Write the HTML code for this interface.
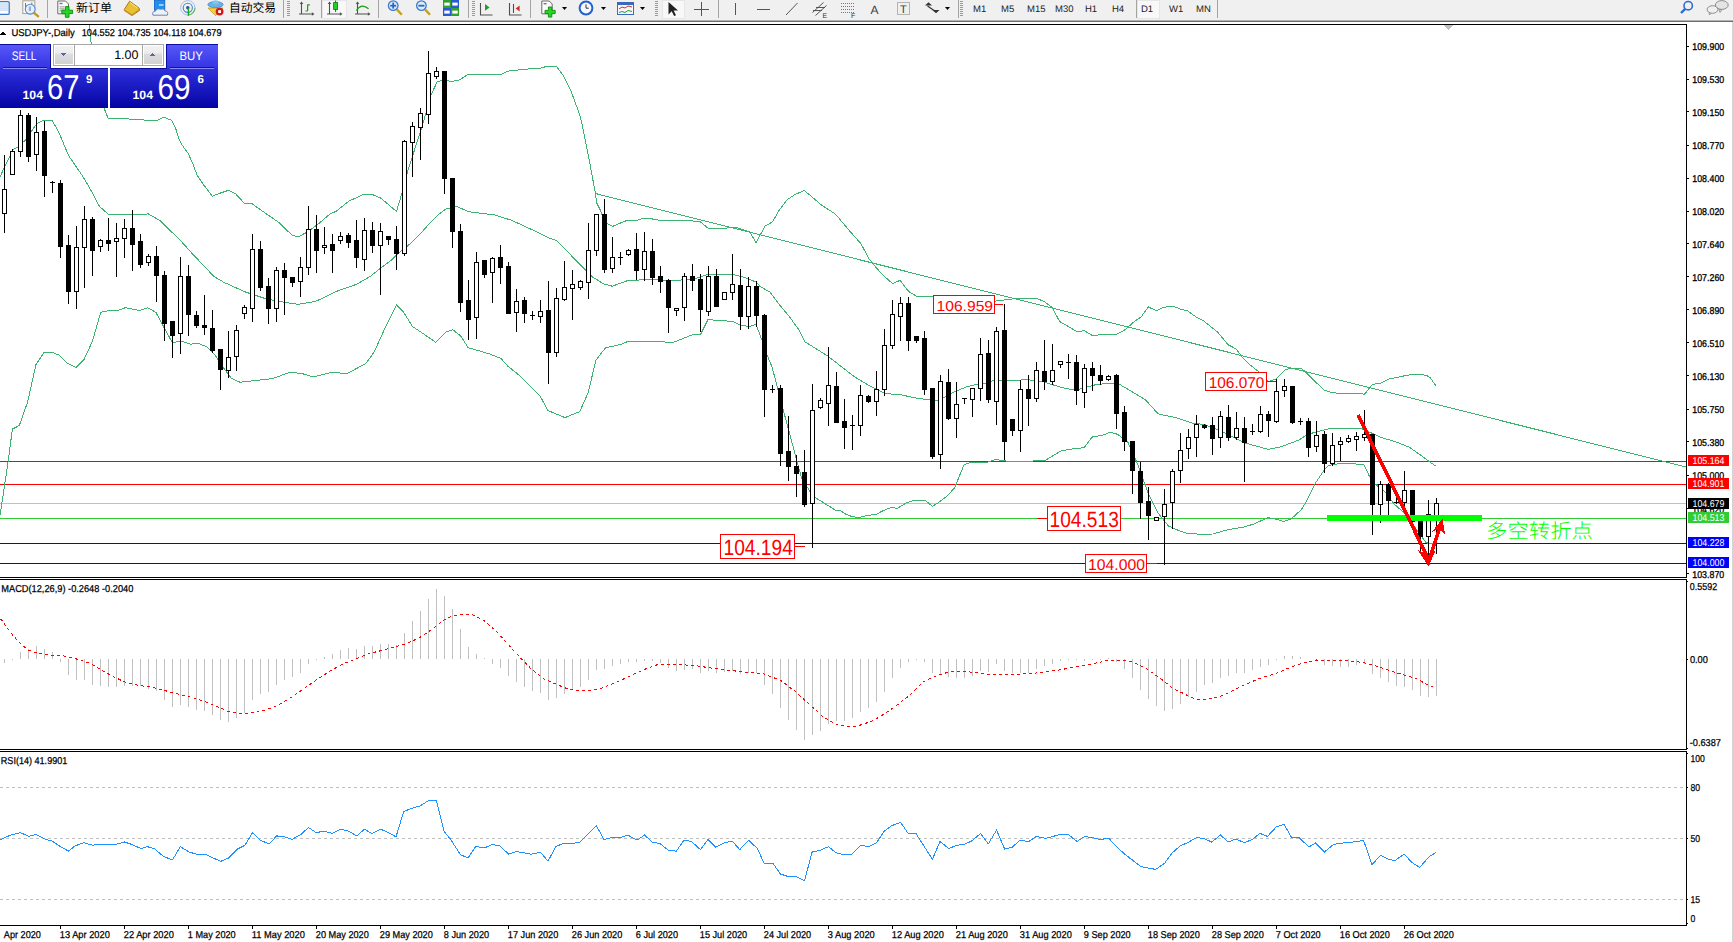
<!DOCTYPE html>
<html><head><meta charset="utf-8"><title>USDJPY-,Daily</title>
<style>
html,body{margin:0;padding:0;background:#fff;width:1733px;height:942px;overflow:hidden}
svg{display:block}
text{font-family:'Liberation Sans', 'Noto Sans CJK SC', sans-serif;white-space:pre;text-rendering:geometricPrecision}
</style></head><body>
<svg width="1733" height="942" viewBox="0 0 1733 942" shape-rendering="crispEdges">
<rect x="0" y="0" width="1733" height="942" fill="#ffffff"/>
<rect x="0" y="0" width="1733" height="20" fill="#f0f0f0"/>
<rect x="0" y="20" width="1733" height="1" fill="#b4b4b4"/>
<rect x="0" y="21" width="1733" height="1" fill="#6c6c6c"/>
<g shape-rendering="auto">
<rect x="-3" y="1.6" width="12.2" height="12.8" rx="1.2" fill="#fff" stroke="#3a7ac8" stroke-width="1.3"/>
<rect x="-2" y="3.6" width="10" height="0.9" fill="#a8c4ee"/>
<rect x="-2" y="5.6" width="10" height="0.9" fill="#a8c4ee"/>
<rect x="-2" y="7.6" width="10" height="0.9" fill="#a8c4ee"/>
<rect x="-2" y="9.6" width="10" height="0.9" fill="#a8c4ee"/>
<rect x="22.8" y="0.8" width="12" height="12.8" fill="#fafafa" stroke="#a8a290" stroke-width="1"/>
<path d="M25.5 3v7M31.8 2.5v5" stroke="#555" stroke-width="0.8"/>
<line x1="34" y1="12.8" x2="38.8" y2="16.8" stroke="#c09818" stroke-width="2.2"/>
<circle cx="30.2" cy="9.2" r="4.9" fill="#e4f0fa" fill-opacity="0.9" stroke="#5a8ad0" stroke-width="1.1"/>
<rect x="28.8" y="6.5" width="2.2" height="4.5" fill="#9ab0c8"/>
<rect x="47" y="0" width="1" height="18" fill="#a4a4a4"/>
<path d="M57.8 1h7.7l3 3v9.8h-10.7z" fill="#fcfcfc" stroke="#6a6a6a" stroke-width="1"/>
<rect x="59.5" y="2.8" width="3" height="1.4" fill="#777"/>
<rect x="59.5" y="6.4" width="5" height="0.9" fill="#888"/>
<rect x="59.5" y="8.4" width="5" height="0.9" fill="#888"/>
<rect x="59.5" y="10.4" width="5" height="0.9" fill="#888"/>
<path d="M65.4 6.6h3.6v3.6h3.6v3.4h-3.6v3.7h-3.6v-3.7h-3.6v-3.4h3.6z" fill="#22d822" stroke="#0e8a0e" stroke-width="0.9"/>
<text x="76" y="11.6" font-size="12" fill="#000" textLength="36" lengthAdjust="spacingAndGlyphs" >新订单</text>
<path d="M124.2 9.6 L129.6 1.2 L139 8 L139.6 10.4 L132 15.6 L124.4 10.6 Z" fill="#e8c030" stroke="#a86c10" stroke-width="0.9"/>
<path d="M125 10.4 L132 14.8 L139 9.6" fill="none" stroke="#c89028" stroke-width="1"/>
<path d="M130 2.6 L137.6 8" stroke="#fff2a0" stroke-width="0.8"/>
<rect x="154.4" y="0.2" width="10.4" height="10" fill="#1e90f0" stroke="#1060c0" stroke-width="0.8"/>
<rect x="159" y="4.4" width="4.5" height="1.2" fill="#e8f4ff"/>
<path d="M153 15.2 q-1.6 -3.4 2.4 -4 q1.4 -3.4 5.2 -2 q3.2 -1.6 4.6 1.8 q3.4 0.4 2.2 4.2 z" fill="#eef2f8" stroke="#5a78b0" stroke-width="0.9"/>
<circle cx="187.8" cy="7.8" r="7.2" fill="none" stroke="#a8c0e8" stroke-width="1"/>
<circle cx="187.8" cy="7.8" r="4.6" fill="none" stroke="#4a80d0" stroke-width="1.1"/>
<path d="M187.8 15 a7.2 7.2 0 0 0 7.2 -7.2" fill="none" stroke="#6ab86a" stroke-width="1.2"/>
<circle cx="187.8" cy="7.8" r="1.7" fill="#1a50c0"/>
<path d="M188.4 8.2v7.6" stroke="#18a818" stroke-width="1.4"/>
<path d="M208 8 L215.6 15.6 L223 8 Z" fill="#f2d040" stroke="#c09828" stroke-width="0.8"/>
<ellipse cx="215.5" cy="4.6" rx="7.6" ry="3" fill="#6ab4e8" stroke="#3a88c8" stroke-width="0.8"/>
<ellipse cx="215.5" cy="2.2" rx="3" ry="2" fill="#80c4f0"/>
<circle cx="219.6" cy="11.6" r="3.9" fill="#d81818"/>
<rect x="218.2" y="10.2" width="2.8" height="2.8" fill="#fff"/>
<text x="229" y="11.6" font-size="12" fill="#000" textLength="47" lengthAdjust="spacingAndGlyphs" >自动交易</text>
</g>
<rect x="283" y="0" width="1" height="18" fill="#a4a4a4"/>
<rect x="287" y="1" width="3" height="1" fill="#9a9a9a"/>
<rect x="287" y="3" width="3" height="1" fill="#9a9a9a"/>
<rect x="287" y="5" width="3" height="1" fill="#9a9a9a"/>
<rect x="287" y="7" width="3" height="1" fill="#9a9a9a"/>
<rect x="287" y="9" width="3" height="1" fill="#9a9a9a"/>
<rect x="287" y="11" width="3" height="1" fill="#9a9a9a"/>
<rect x="287" y="13" width="3" height="1" fill="#9a9a9a"/>
<rect x="287" y="15" width="3" height="1" fill="#9a9a9a"/>
<g shape-rendering="auto">
<path d="M301.5 3v11.5M299 14h14" stroke="#505050" stroke-width="1.1" fill="none"/>
<path d="M301.5 1.5l-1.8 2.6h3.6z" fill="#505050"/>
<path d="M314.5 14l-2.6 -1.8v3.6z" fill="#505050"/>
<path d="M307.6 4.5v6.6M307.6 4.8h2.2M305.4 11h2.2" stroke="#16a016" stroke-width="1.2" fill="none"/>
</g>
<rect x="321" y="0" width="1" height="18" fill="#a4a4a4"/>
<rect x="322.5" y="0.5" width="24" height="18" fill="#f8f8f8" stroke="#e6e6e6"/>
<g shape-rendering="auto">
<path d="M329.5 3v11.5M327 14h14" stroke="#505050" stroke-width="1.1" fill="none"/>
<path d="M329.5 1.5l-1.8 2.6h3.6z" fill="#505050"/>
<path d="M342.5 14l-2.6 -1.8v3.6z" fill="#505050"/>
<path d="M335.6 0.5v11.5" stroke="#0e7a0e" stroke-width="1"/>
<rect x="333.6" y="2.6" width="4" height="6.8" fill="#22d022" stroke="#0e7a0e" stroke-width="0.8"/>
<path d="M357.5 3v11.5M355 14h14" stroke="#505050" stroke-width="1.1" fill="none"/>
<path d="M357.5 1.5l-1.8 2.6h3.6z" fill="#505050"/>
<path d="M370.5 14l-2.6 -1.8v3.6z" fill="#505050"/>
<path d="M356.4 10.5 Q361.4 2.6 368.6 8.8" fill="none" stroke="#16a016" stroke-width="1.2"/>
</g>
<rect x="378" y="0" width="1" height="18" fill="#a4a4a4"/>
<g shape-rendering="auto">
<line x1="397.0" y1="9.6" x2="401.8" y2="14.8" stroke="#c8a020" stroke-width="2.4"/>
<circle cx="393.2" cy="5.6" r="4.8" fill="#dcecfa" stroke="#3a7ad0" stroke-width="1.3"/>
<rect x="390.2" y="4.8" width="6" height="1.8" fill="#2a66c0"/>
<rect x="392.3" y="2.6" width="1.8" height="6" fill="#2a66c0"/>
<line x1="425.2" y1="9.6" x2="430.0" y2="14.8" stroke="#c8a020" stroke-width="2.4"/>
<circle cx="421.4" cy="5.6" r="4.8" fill="#dcecfa" stroke="#3a7ad0" stroke-width="1.3"/>
<rect x="418.4" y="4.8" width="6" height="1.8" fill="#2a66c0"/>
<rect x="443" y="0" width="8" height="8" fill="#30a030"/>
<rect x="451" y="0" width="8" height="8" fill="#2a5ad0"/>
<rect x="443" y="8" width="8" height="8" fill="#2a5ad0"/>
<rect x="451" y="8" width="8" height="8" fill="#30a030"/>
<rect x="444.3" y="2.6" width="5.4" height="3" fill="#fff"/>
<rect x="452.3" y="2.6" width="5.4" height="3" fill="#fff"/>
<rect x="444.3" y="10.6" width="5.4" height="3" fill="#fff"/>
<rect x="452.3" y="10.6" width="5.4" height="3" fill="#fff"/>
</g>
<rect x="468" y="0" width="1" height="18" fill="#a4a4a4"/>
<rect x="472" y="1" width="3" height="1" fill="#9a9a9a"/>
<rect x="472" y="3" width="3" height="1" fill="#9a9a9a"/>
<rect x="472" y="5" width="3" height="1" fill="#9a9a9a"/>
<rect x="472" y="7" width="3" height="1" fill="#9a9a9a"/>
<rect x="472" y="9" width="3" height="1" fill="#9a9a9a"/>
<rect x="472" y="11" width="3" height="1" fill="#9a9a9a"/>
<rect x="472" y="13" width="3" height="1" fill="#9a9a9a"/>
<rect x="472" y="15" width="3" height="1" fill="#9a9a9a"/>
<g shape-rendering="auto">
<path d="M480.5 3v12h12" fill="none" stroke="#505050" stroke-width="1.1"/>
<path d="M485 4l4.6 3.4l-4.6 3.4z" fill="#20a020"/>
<path d="M509.5 3v12h12M513.5 4v9" fill="none" stroke="#505050" stroke-width="1.1"/>
<path d="M519.6 5.4l-4 3l4 3z" fill="#d03030"/>
</g>
<rect x="530" y="0" width="1" height="18" fill="#a4a4a4"/>
<g shape-rendering="auto">
<path d="M541.8 1h7.4l3 3v9.8h-10.4z" fill="#fcfcfc" stroke="#6a6a6a"/>
<rect x="543.6" y="3" width="3" height="1.4" fill="#777"/>
<path d="M548.4 7h3.4v3.4h3.4v3.2h-3.4v3.5h-3.4v-3.5h-3.4v-3.2h3.4z" fill="#22d822" stroke="#0e8a0e" stroke-width="0.9"/>
<path d="M562 7h5l-2.5 3z" fill="#000"/>
<circle cx="586" cy="8" r="7.4" fill="#2060d0"/>
<circle cx="586" cy="8" r="5.4" fill="#f6f9fd"/>
<path d="M586 4.4v3.8h2.8" fill="none" stroke="#333" stroke-width="1"/>
<path d="M601 7h5l-2.5 3z" fill="#000"/>
<rect x="617.5" y="2.5" width="16" height="12" fill="#f6f8fb" stroke="#3a6ac0"/>
<rect x="618" y="3" width="15" height="2" fill="#3a6ac0"/>
<path d="M619 9 l3 -2 l3 1 l3 -2 l4 1" fill="none" stroke="#d03030"/>
<path d="M619 12.5 l3 -1 l3 1 l3 -2 l4 1" fill="none" stroke="#20a020"/>
<path d="M640 7h5l-2.5 3z" fill="#000"/>
</g>
<rect x="655" y="1" width="3" height="1" fill="#9a9a9a"/>
<rect x="655" y="3" width="3" height="1" fill="#9a9a9a"/>
<rect x="655" y="5" width="3" height="1" fill="#9a9a9a"/>
<rect x="655" y="7" width="3" height="1" fill="#9a9a9a"/>
<rect x="655" y="9" width="3" height="1" fill="#9a9a9a"/>
<rect x="655" y="11" width="3" height="1" fill="#9a9a9a"/>
<rect x="655" y="13" width="3" height="1" fill="#9a9a9a"/>
<rect x="655" y="15" width="3" height="1" fill="#9a9a9a"/>
<rect x="662.5" y="0.5" width="22" height="18" fill="#f8f8f8" stroke="#e6e6e6"/>
<g shape-rendering="auto">
<path d="M668.5 2v12.5l3.2 -3.2l2.4 4.8l1.9 -0.9l-2.4 -4.7h4.4z" fill="#222"/>
</g>
<path d="M701.5 2v14M694 9.5h15" stroke="#555"/>
<rect x="718" y="0" width="1" height="18" fill="#a4a4a4"/>
<rect x="735" y="3" width="1" height="12" fill="#555"/>
<rect x="757" y="9" width="13" height="1" fill="#555"/>
<g shape-rendering="auto">
<line x1="786" y1="15" x2="797.5" y2="3" stroke="#555"/>
<path d="M812.5 12.5 l11 -10 M815.5 15.5 l11 -10 M813 10.5h9M816 7.5h9" stroke="#555" fill="none"/>
<text x="822.6" y="18" font-size="7" fill="#333" >E</text>
<line x1="841" y1="3.5" x2="854" y2="3.5" stroke="#777" stroke-dasharray="1,1"/>
<line x1="841" y1="6.5" x2="854" y2="6.5" stroke="#777" stroke-dasharray="1,1"/>
<line x1="841" y1="9.5" x2="854" y2="9.5" stroke="#777" stroke-dasharray="1,1"/>
<line x1="841" y1="12.5" x2="854" y2="12.5" stroke="#777" stroke-dasharray="1,1"/>
<text x="851" y="18" font-size="7" fill="#333" >F</text>
<text x="870.6" y="13.8" font-size="12" fill="#3c3c3c" >A</text>
<rect x="897.5" y="2.5" width="12" height="12" fill="none" stroke="#777" stroke-dasharray="1,1"/>
<text x="900" y="12.8" font-size="11" fill="#3c3c3c" >T</text>
<path d="M925 5.5 l3.5 -3.2 l3.5 3.2 z M932.5 10 l3.5 3.2 l3.5 -3.2 z" fill="#333"/>
<path d="M927.5 6 l8 5.5" stroke="#333" stroke-width="1.2"/>
<path d="M945 7h5l-2.5 3z" fill="#000"/>
</g>
<rect x="958" y="0" width="1" height="18" fill="#a4a4a4"/>
<rect x="960" y="1" width="3" height="1" fill="#9a9a9a"/>
<rect x="960" y="3" width="3" height="1" fill="#9a9a9a"/>
<rect x="960" y="5" width="3" height="1" fill="#9a9a9a"/>
<rect x="960" y="7" width="3" height="1" fill="#9a9a9a"/>
<rect x="960" y="9" width="3" height="1" fill="#9a9a9a"/>
<rect x="960" y="11" width="3" height="1" fill="#9a9a9a"/>
<rect x="960" y="13" width="3" height="1" fill="#9a9a9a"/>
<rect x="960" y="15" width="3" height="1" fill="#9a9a9a"/>
<text x="973" y="12" font-size="9.5" fill="#222" >M1</text>
<text x="1001" y="12" font-size="9.5" fill="#222" >M5</text>
<text x="1027" y="12" font-size="9.5" fill="#222" >M15</text>
<text x="1055" y="12" font-size="9.5" fill="#222" >M30</text>
<text x="1085" y="12" font-size="9.5" fill="#222" >H1</text>
<text x="1112" y="12" font-size="9.5" fill="#222" >H4</text>
<rect x="1136" y="0" width="1" height="18" fill="#a4a4a4"/>
<rect x="1137.5" y="0.5" width="22" height="18" fill="#f8f8f8" stroke="#e6e6e6"/>
<text x="1141" y="12" font-size="9.5" fill="#222" >D1</text>
<text x="1169" y="12" font-size="9.5" fill="#222" >W1</text>
<text x="1196" y="12" font-size="9.5" fill="#222" >MN</text>
<rect x="1217" y="0" width="1" height="18" fill="#a4a4a4"/>
<g shape-rendering="auto">
<circle cx="1688.2" cy="5.7" r="4.2" fill="none" stroke="#2b6cd8" stroke-width="1.6"/>
<line x1="1685.2" y1="8.8" x2="1681" y2="13" stroke="#2b6cd8" stroke-width="2.4"/>
<path d="M1719 9.5 l1 3 l2 -3 z" fill="#d8d8d8" stroke="#8c8c8c" stroke-width="0.8"/>
<ellipse cx="1721.8" cy="5" rx="6.4" ry="4.4" fill="#e4e4e4" stroke="#8c8c8c"/>
<path d="M1709 12 l0.5 3 l2.5 -2.5 z" fill="#e8e8e8" stroke="#8c8c8c" stroke-width="0.8"/>
<ellipse cx="1712.5" cy="9.5" rx="5.4" ry="3.8" fill="#efefef" stroke="#8c8c8c"/>
</g>
<rect x="0" y="461" width="1686" height="1" fill="#ff0000"/>
<rect x="0" y="484" width="1686" height="1" fill="#ff0000"/>
<rect x="0" y="503" width="1686" height="1" fill="#c0c0c0"/>
<rect x="0" y="518" width="1686" height="1" fill="#32cd32"/>
<rect x="0" y="543" width="1686" height="1" fill="#0000ff"/>
<rect x="0" y="563" width="1686" height="1" fill="#0000ff"/>
<clipPath id="cmain"><rect x="0" y="25" width="1686" height="552"/></clipPath>
<g clip-path="url(#cmain)">
<polyline points="86,10 89,24 91,42 96,70 104,108 108,118 120,118.4 150,120.4 157.6,120.1 164,117.2 171.7,120.4 175.5,128 179.3,139.5 181.8,144.6 188.2,153.5 193.3,165 197.1,175.2 203.5,184.7 212.4,196.2 218.8,193.6 228.3,190.4 235.4,193.6 244.3,203.2 251.6,203.4 266.5,214 279,222.5 292,235.2 298.3,237 309,231 317.5,224.6 330,214 336,211.4 348.7,201.2 363.6,194.4 372,194.4 380.6,198 396.5,211.4 401.8,193.8 407.6,171.6 422.5,125 431,95.2 437.3,81.4 443.7,80.3 452.2,81.4 460,79.7 468,74.4 501.4,74.4 507.8,71.2 523.7,69.3 541.2,68 547.6,66.1 556.3,66.1 563.5,75.7 571.5,92.4 579.4,113.9 582.6,126.7 587.4,150.5 592.2,176 595.4,193.5 596.8,203.1 600,209.5 601.8,214.6 607,223.5 612.7,226.4 617.8,224.1 627.3,220.3 637.5,220.3 643.2,218.4 649,218.4 660,220.3 679.6,220.3 699.8,221.4 708.3,228.4 737,227.8 749.7,232 756,242.6 760,235.4 765.1,226 772.7,221.8 778.7,210.8 787.2,199.7 794,195.1 804.2,190.4 814.4,198.9 821.1,204.8 835.6,214.2 848.3,229.4 861.1,243.9 868.7,258.3 875.5,266.8 882.3,274.5 892.5,283.5 900.1,280.4 908.6,291.4 916.3,296 933.2,296 960,298 980,300 994.9,301.2 1014,298.7 1035.2,298 1043.7,301.2 1052.2,307.6 1059.6,321.4 1077.7,332 1084,330.5 1092.5,335.6 1100,334.8 1116.5,334.4 1125,329.8 1134.6,321.3 1141,317.1 1148.4,307 1156.3,310.7 1162.2,307.8 1170.7,306.1 1174.9,306.8 1180.2,309.1 1187.7,311 1196.2,317.1 1203.6,320.8 1217.4,331.9 1228,344.7 1236,348.9 1241.8,356.7 1250,364.8 1258.7,371.7 1268.5,381.5 1276.5,378.7 1285.8,369.4 1291.5,368.3 1300.8,368.3 1305.4,371.7 1314.6,381 1323.9,389.9 1330.8,392.2 1337.7,393.3 1360.8,393.3 1364.3,394.5 1372.3,384.4 1380.4,383.3 1388.5,379.2 1400,376.7 1409.3,374.9 1417.3,374 1426.6,375.5 1430,377.5 1435.8,385.6" fill="none" stroke="#3cb371" stroke-width="1" />
<polyline points="0,177 5.1,165.5 10.2,156 12.7,149.6 17.8,147 25.5,140 30.6,132.4 36.9,123.5 43.3,120.5 52.2,120.5 58.6,131.8 68.8,156 82.8,176.3 91.7,191.6 99.4,206.3 108.3,214.3 117.2,214.3 148.6,214 160.8,221.2 169.3,229.7 180,240 192.7,254.1 213.9,276.4 224,282.4 230.9,285.4 244,291.5 266.5,299 287.7,302.8 298.3,304.3 315.3,301.5 330,294.7 336,291.5 348.7,287.2 357.2,284 370,276.6 380.6,268.1 391.2,260.3 399.7,252.2 410.3,243.7 421,233 429.4,223.5 438,215 446.4,208.7 456.5,206.5 469.2,211.8 494.7,215 511.7,220.3 537,232 550,238.4 556.3,240.5 568,252.2 584.6,269.2 592,276.6 603.7,284 612.2,286.2 627,280.8 642,279.8 660,279.8 673.2,280.8 694.5,278.7 707.2,274.5 732.7,274.5 745.4,277.7 756,282 760,286.3 770.2,292.3 780.4,305.9 788.9,316 799,330 804.7,341.6 827.6,355.9 853.4,376 868,385 885,393.6 900,394.6 914.7,397.8 929.6,400 938,401 953,392.5 965.7,387.2 978.4,384 988,383 992.7,380.8 1028.8,379.8 1043.7,382 1060.7,387.2 1075.5,390.4 1086.2,387.2 1094.6,385 1107.3,383.3 1120,384.6 1132.8,392.2 1145.5,399.9 1158.2,413.9 1176,417.7 1193.9,423.6 1204,424.3 1221,431 1234.6,437.9 1245.8,443.2 1268.1,449.3 1280.8,446.9 1298.9,440 1306,435.3 1314.6,432.3 1330.8,428.3 1360.8,428.3 1370,432.3 1381,437.3 1389.6,440 1396.2,442 1409.6,447.4 1421,455.4 1435.4,466" fill="none" stroke="#3cb371" stroke-width="1" />
<polyline points="0,515.2 5.5,479.3 8.3,460 12.4,429.1 19.3,425.5 27.6,402 35.9,364.8 44.1,352.4 52.4,352.4 59.3,355.2 67.6,363.4 75.9,367.6 84.1,359.3 92.4,341.4 100.7,312.4 109,310.5 117.2,310.5 125.5,307.7 139.3,310.5 147.6,307.7 155.9,312.4 164.1,327.6 172.4,342.8 180.7,340.8 190.3,344.1 198.6,343.6 206.9,346.9 215.2,355.2 223.4,367.6 231.7,378.6 240,382.2 272.8,378.6 289.8,372.2 302.6,373.7 313,377 332,372.2 346.6,373.7 365.7,363.7 374.2,352 384.8,328.6 396.5,304.8 404,312.7 412.4,326.5 425.2,335 435.8,342.4 446.4,331.8 452.7,329.7 460.7,336 468.2,347.7 480,351.1 490.6,354.3 501.2,358.6 507.6,366 518.2,374.5 540.5,396.8 548,410.6 565,417.6 579.8,411.6 588.3,392.5 595.7,360.7 600,354.7 605.8,347.7 620.7,344.5 627,341.8 660,341.8 673.2,342.4 694.5,334 700.8,334 708.3,319 715.7,320.6 732.7,321.2 741.2,325.4 749.7,326.5 756,324.4 762.4,341.4 767.5,356 772,366.8 781.8,404.6 801.8,479 813.3,496.3 836.2,510.6 840,510.2 845.3,513.9 851.7,516.5 859.1,517.6 866.5,515.5 876.1,514.4 883.5,510.5 891,507.5 897.3,508.3 905.8,503.2 914.3,500.3 924.9,500.3 932.4,506.2 938.7,502.4 946.2,496.9 954.6,487.9 960,474.6 964.2,464.5 967.4,463.4 971.6,462.4 975.9,462 986.5,462.4 992.9,460.3 996,459.2 1000,460.3 1014,462 1033,461 1045.8,460 1060.7,451 1073.4,448.8 1084,447.7 1092.5,436.7 1102.2,435.5 1109.8,432.2 1117.5,434.3 1127.7,441.9 1137.9,464.8 1148,492.9 1158.2,513.2 1168.4,526 1180,531.1 1187.4,533.4 1201.2,534.3 1212.9,534 1227.8,529.7 1243.7,527 1254.3,523.9 1268.1,517.5 1275.5,519.1 1284,521.5 1291.5,518.6 1301,510 1305.3,503.2 1314.8,484.1 1324.4,469.7 1328.6,465.5 1342.7,463 1363.7,464.6 1369.5,476.4 1375.2,484.1 1384.8,491.7 1394.3,504.1 1403.9,512.7 1415.3,528 1425.8,542.4 1429,543.5 1436,544" fill="none" stroke="#3cb371" stroke-width="1" />
<polyline points="595.4,193.5 1686,467" fill="none" stroke="#3cb371" stroke-width="1" />
</g>
<rect x="4" y="155" width="1" height="78" fill="#000"/>
<rect x="2" y="189" width="5" height="25" fill="#000"/>
<rect x="3" y="190" width="3" height="23" fill="#fff"/>
<rect x="12" y="149" width="1" height="26" fill="#000"/>
<rect x="10" y="151" width="5" height="24" fill="#000"/>
<rect x="11" y="152" width="3" height="22" fill="#fff"/>
<rect x="20" y="110" width="1" height="47" fill="#000"/>
<rect x="18" y="115" width="5" height="37" fill="#000"/>
<rect x="19" y="116" width="3" height="35" fill="#fff"/>
<rect x="28" y="113" width="1" height="49" fill="#000"/>
<rect x="26" y="115" width="5" height="42" fill="#000"/>
<rect x="36" y="117" width="1" height="54" fill="#000"/>
<rect x="34" y="132" width="5" height="23" fill="#000"/>
<rect x="35" y="133" width="3" height="21" fill="#fff"/>
<rect x="44" y="121" width="1" height="76" fill="#000"/>
<rect x="42" y="131" width="5" height="45" fill="#000"/>
<rect x="52" y="181" width="1" height="12" fill="#000"/>
<rect x="50" y="182" width="5" height="1" fill="#000"/>
<rect x="60" y="180" width="1" height="78" fill="#000"/>
<rect x="58" y="183" width="5" height="64" fill="#000"/>
<rect x="68" y="235" width="1" height="69" fill="#000"/>
<rect x="66" y="245" width="5" height="47" fill="#000"/>
<rect x="76" y="226" width="1" height="83" fill="#000"/>
<rect x="74" y="247" width="5" height="45" fill="#000"/>
<rect x="75" y="248" width="3" height="43" fill="#fff"/>
<rect x="84" y="206" width="1" height="82" fill="#000"/>
<rect x="82" y="219" width="5" height="29" fill="#000"/>
<rect x="83" y="220" width="3" height="27" fill="#fff"/>
<rect x="92" y="217" width="1" height="59" fill="#000"/>
<rect x="90" y="219" width="5" height="32" fill="#000"/>
<rect x="100" y="239" width="1" height="13" fill="#000"/>
<rect x="98" y="240" width="5" height="7" fill="#000"/>
<rect x="99" y="241" width="3" height="5" fill="#fff"/>
<rect x="108" y="218" width="1" height="33" fill="#000"/>
<rect x="106" y="240" width="5" height="4" fill="#000"/>
<rect x="116" y="223" width="1" height="54" fill="#000"/>
<rect x="114" y="238" width="5" height="4" fill="#000"/>
<rect x="115" y="239" width="3" height="2" fill="#fff"/>
<rect x="124" y="219" width="1" height="39" fill="#000"/>
<rect x="122" y="228" width="5" height="11" fill="#000"/>
<rect x="123" y="229" width="3" height="9" fill="#fff"/>
<rect x="132" y="210" width="1" height="61" fill="#000"/>
<rect x="130" y="228" width="5" height="17" fill="#000"/>
<rect x="140" y="234" width="1" height="34" fill="#000"/>
<rect x="138" y="241" width="5" height="24" fill="#000"/>
<rect x="148" y="254" width="1" height="12" fill="#000"/>
<rect x="146" y="256" width="5" height="7" fill="#000"/>
<rect x="147" y="257" width="3" height="5" fill="#fff"/>
<rect x="156" y="246" width="1" height="56" fill="#000"/>
<rect x="154" y="256" width="5" height="20" fill="#000"/>
<rect x="164" y="271" width="1" height="70" fill="#000"/>
<rect x="162" y="275" width="5" height="49" fill="#000"/>
<rect x="172" y="321" width="1" height="37" fill="#000"/>
<rect x="170" y="321" width="5" height="15" fill="#000"/>
<rect x="180" y="257" width="1" height="97" fill="#000"/>
<rect x="178" y="276" width="5" height="58" fill="#000"/>
<rect x="179" y="277" width="3" height="56" fill="#fff"/>
<rect x="188" y="265" width="1" height="71" fill="#000"/>
<rect x="186" y="276" width="5" height="39" fill="#000"/>
<rect x="196" y="311" width="1" height="17" fill="#000"/>
<rect x="194" y="315" width="5" height="11" fill="#000"/>
<rect x="204" y="295" width="1" height="40" fill="#000"/>
<rect x="202" y="325" width="5" height="3" fill="#000"/>
<rect x="212" y="310" width="1" height="43" fill="#000"/>
<rect x="210" y="328" width="5" height="23" fill="#000"/>
<rect x="220" y="349" width="1" height="41" fill="#000"/>
<rect x="218" y="349" width="5" height="21" fill="#000"/>
<rect x="228" y="331" width="1" height="47" fill="#000"/>
<rect x="226" y="357" width="5" height="14" fill="#000"/>
<rect x="227" y="358" width="3" height="12" fill="#fff"/>
<rect x="236" y="325" width="1" height="46" fill="#000"/>
<rect x="234" y="330" width="5" height="27" fill="#000"/>
<rect x="235" y="331" width="3" height="25" fill="#fff"/>
<rect x="244" y="305" width="1" height="14" fill="#000"/>
<rect x="242" y="307" width="5" height="7" fill="#000"/>
<rect x="243" y="308" width="3" height="5" fill="#fff"/>
<rect x="252" y="234" width="1" height="88" fill="#000"/>
<rect x="250" y="249" width="5" height="60" fill="#000"/>
<rect x="251" y="250" width="3" height="58" fill="#fff"/>
<rect x="260" y="241" width="1" height="50" fill="#000"/>
<rect x="258" y="249" width="5" height="39" fill="#000"/>
<rect x="268" y="278" width="1" height="46" fill="#000"/>
<rect x="266" y="286" width="5" height="23" fill="#000"/>
<rect x="276" y="267" width="1" height="55" fill="#000"/>
<rect x="274" y="270" width="5" height="39" fill="#000"/>
<rect x="275" y="271" width="3" height="37" fill="#fff"/>
<rect x="284" y="263" width="1" height="52" fill="#000"/>
<rect x="282" y="270" width="5" height="8" fill="#000"/>
<rect x="292" y="277" width="1" height="10" fill="#000"/>
<rect x="290" y="277" width="5" height="6" fill="#000"/>
<rect x="300" y="257" width="1" height="40" fill="#000"/>
<rect x="298" y="267" width="5" height="15" fill="#000"/>
<rect x="299" y="268" width="3" height="13" fill="#fff"/>
<rect x="308" y="206" width="1" height="69" fill="#000"/>
<rect x="306" y="229" width="5" height="39" fill="#000"/>
<rect x="307" y="230" width="3" height="37" fill="#fff"/>
<rect x="316" y="215" width="1" height="58" fill="#000"/>
<rect x="314" y="229" width="5" height="22" fill="#000"/>
<rect x="324" y="227" width="1" height="27" fill="#000"/>
<rect x="322" y="245" width="5" height="3" fill="#000"/>
<rect x="323" y="246" width="3" height="1" fill="#fff"/>
<rect x="332" y="234" width="1" height="39" fill="#000"/>
<rect x="330" y="244" width="5" height="7" fill="#000"/>
<rect x="340" y="232" width="1" height="12" fill="#000"/>
<rect x="338" y="236" width="5" height="5" fill="#000"/>
<rect x="339" y="237" width="3" height="3" fill="#fff"/>
<rect x="348" y="233" width="1" height="15" fill="#000"/>
<rect x="346" y="235" width="5" height="8" fill="#000"/>
<rect x="356" y="220" width="1" height="48" fill="#000"/>
<rect x="354" y="240" width="5" height="18" fill="#000"/>
<rect x="364" y="218" width="1" height="53" fill="#000"/>
<rect x="362" y="230" width="5" height="30" fill="#000"/>
<rect x="363" y="231" width="3" height="28" fill="#fff"/>
<rect x="372" y="222" width="1" height="31" fill="#000"/>
<rect x="370" y="230" width="5" height="16" fill="#000"/>
<rect x="380" y="223" width="1" height="72" fill="#000"/>
<rect x="378" y="231" width="5" height="15" fill="#000"/>
<rect x="379" y="232" width="3" height="13" fill="#fff"/>
<rect x="388" y="236" width="1" height="9" fill="#000"/>
<rect x="386" y="236" width="5" height="4" fill="#000"/>
<rect x="396" y="226" width="1" height="44" fill="#000"/>
<rect x="394" y="239" width="5" height="15" fill="#000"/>
<rect x="404" y="140" width="1" height="116" fill="#000"/>
<rect x="402" y="141" width="5" height="113" fill="#000"/>
<rect x="403" y="142" width="3" height="111" fill="#fff"/>
<rect x="412" y="122" width="1" height="55" fill="#000"/>
<rect x="410" y="126" width="5" height="17" fill="#000"/>
<rect x="411" y="127" width="3" height="15" fill="#fff"/>
<rect x="420" y="108" width="1" height="52" fill="#000"/>
<rect x="418" y="113" width="5" height="15" fill="#000"/>
<rect x="419" y="114" width="3" height="13" fill="#fff"/>
<rect x="428" y="51" width="1" height="73" fill="#000"/>
<rect x="426" y="73" width="5" height="42" fill="#000"/>
<rect x="427" y="74" width="3" height="40" fill="#fff"/>
<rect x="436" y="67" width="1" height="12" fill="#000"/>
<rect x="434" y="71" width="5" height="6" fill="#000"/>
<rect x="435" y="72" width="3" height="4" fill="#fff"/>
<rect x="444" y="71" width="1" height="123" fill="#000"/>
<rect x="442" y="71" width="5" height="108" fill="#000"/>
<rect x="452" y="178" width="1" height="70" fill="#000"/>
<rect x="450" y="178" width="5" height="54" fill="#000"/>
<rect x="460" y="224" width="1" height="88" fill="#000"/>
<rect x="458" y="231" width="5" height="72" fill="#000"/>
<rect x="468" y="280" width="1" height="60" fill="#000"/>
<rect x="466" y="300" width="5" height="20" fill="#000"/>
<rect x="476" y="252" width="1" height="87" fill="#000"/>
<rect x="474" y="262" width="5" height="56" fill="#000"/>
<rect x="475" y="263" width="3" height="54" fill="#fff"/>
<rect x="484" y="260" width="1" height="18" fill="#000"/>
<rect x="482" y="260" width="5" height="15" fill="#000"/>
<rect x="492" y="257" width="1" height="46" fill="#000"/>
<rect x="490" y="258" width="5" height="15" fill="#000"/>
<rect x="491" y="259" width="3" height="13" fill="#fff"/>
<rect x="500" y="245" width="1" height="39" fill="#000"/>
<rect x="498" y="257" width="5" height="11" fill="#000"/>
<rect x="508" y="262" width="1" height="52" fill="#000"/>
<rect x="506" y="266" width="5" height="48" fill="#000"/>
<rect x="516" y="289" width="1" height="43" fill="#000"/>
<rect x="514" y="301" width="5" height="12" fill="#000"/>
<rect x="515" y="302" width="3" height="10" fill="#fff"/>
<rect x="524" y="297" width="1" height="26" fill="#000"/>
<rect x="522" y="300" width="5" height="14" fill="#000"/>
<rect x="532" y="311" width="1" height="9" fill="#000"/>
<rect x="530" y="315" width="5" height="1" fill="#000"/>
<rect x="540" y="300" width="1" height="23" fill="#000"/>
<rect x="538" y="311" width="5" height="6" fill="#000"/>
<rect x="539" y="312" width="3" height="4" fill="#fff"/>
<rect x="548" y="281" width="1" height="103" fill="#000"/>
<rect x="546" y="310" width="5" height="43" fill="#000"/>
<rect x="556" y="288" width="1" height="69" fill="#000"/>
<rect x="554" y="298" width="5" height="55" fill="#000"/>
<rect x="555" y="299" width="3" height="53" fill="#fff"/>
<rect x="564" y="261" width="1" height="40" fill="#000"/>
<rect x="562" y="287" width="5" height="13" fill="#000"/>
<rect x="563" y="288" width="3" height="11" fill="#fff"/>
<rect x="572" y="270" width="1" height="50" fill="#000"/>
<rect x="570" y="284" width="5" height="5" fill="#000"/>
<rect x="571" y="285" width="3" height="3" fill="#fff"/>
<rect x="580" y="280" width="1" height="10" fill="#000"/>
<rect x="578" y="281" width="5" height="7" fill="#000"/>
<rect x="579" y="282" width="3" height="5" fill="#fff"/>
<rect x="588" y="223" width="1" height="76" fill="#000"/>
<rect x="586" y="250" width="5" height="33" fill="#000"/>
<rect x="587" y="251" width="3" height="31" fill="#fff"/>
<rect x="596" y="214" width="1" height="42" fill="#000"/>
<rect x="594" y="214" width="5" height="37" fill="#000"/>
<rect x="595" y="215" width="3" height="35" fill="#fff"/>
<rect x="604" y="199" width="1" height="74" fill="#000"/>
<rect x="602" y="214" width="5" height="56" fill="#000"/>
<rect x="612" y="237" width="1" height="36" fill="#000"/>
<rect x="610" y="257" width="5" height="12" fill="#000"/>
<rect x="611" y="258" width="3" height="10" fill="#fff"/>
<rect x="620" y="252" width="1" height="13" fill="#000"/>
<rect x="618" y="257" width="5" height="1" fill="#000"/>
<rect x="628" y="249" width="1" height="7" fill="#000"/>
<rect x="626" y="250" width="5" height="5" fill="#000"/>
<rect x="627" y="251" width="3" height="3" fill="#fff"/>
<rect x="636" y="233" width="1" height="47" fill="#000"/>
<rect x="634" y="249" width="5" height="22" fill="#000"/>
<rect x="644" y="232" width="1" height="49" fill="#000"/>
<rect x="642" y="251" width="5" height="19" fill="#000"/>
<rect x="643" y="252" width="3" height="17" fill="#fff"/>
<rect x="652" y="239" width="1" height="46" fill="#000"/>
<rect x="650" y="251" width="5" height="27" fill="#000"/>
<rect x="660" y="266" width="1" height="27" fill="#000"/>
<rect x="658" y="276" width="5" height="6" fill="#000"/>
<rect x="668" y="279" width="1" height="54" fill="#000"/>
<rect x="666" y="280" width="5" height="28" fill="#000"/>
<rect x="676" y="308" width="1" height="8" fill="#000"/>
<rect x="674" y="308" width="5" height="3" fill="#000"/>
<rect x="675" y="309" width="3" height="1" fill="#fff"/>
<rect x="684" y="273" width="1" height="48" fill="#000"/>
<rect x="682" y="276" width="5" height="32" fill="#000"/>
<rect x="683" y="277" width="3" height="30" fill="#fff"/>
<rect x="692" y="264" width="1" height="27" fill="#000"/>
<rect x="690" y="276" width="5" height="5" fill="#000"/>
<rect x="700" y="274" width="1" height="58" fill="#000"/>
<rect x="698" y="279" width="5" height="31" fill="#000"/>
<rect x="708" y="266" width="1" height="50" fill="#000"/>
<rect x="706" y="276" width="5" height="36" fill="#000"/>
<rect x="707" y="277" width="3" height="34" fill="#fff"/>
<rect x="716" y="269" width="1" height="38" fill="#000"/>
<rect x="714" y="276" width="5" height="31" fill="#000"/>
<rect x="724" y="292" width="1" height="8" fill="#000"/>
<rect x="722" y="292" width="5" height="8" fill="#000"/>
<rect x="723" y="293" width="3" height="6" fill="#fff"/>
<rect x="732" y="254" width="1" height="46" fill="#000"/>
<rect x="730" y="284" width="5" height="9" fill="#000"/>
<rect x="731" y="285" width="3" height="7" fill="#fff"/>
<rect x="740" y="269" width="1" height="61" fill="#000"/>
<rect x="738" y="285" width="5" height="32" fill="#000"/>
<rect x="748" y="277" width="1" height="52" fill="#000"/>
<rect x="746" y="286" width="5" height="31" fill="#000"/>
<rect x="747" y="287" width="3" height="29" fill="#fff"/>
<rect x="756" y="281" width="1" height="46" fill="#000"/>
<rect x="754" y="286" width="5" height="30" fill="#000"/>
<rect x="764" y="314" width="1" height="103" fill="#000"/>
<rect x="762" y="315" width="5" height="75" fill="#000"/>
<rect x="772" y="385" width="1" height="8" fill="#000"/>
<rect x="770" y="389" width="5" height="1" fill="#000"/>
<rect x="780" y="385" width="1" height="81" fill="#000"/>
<rect x="778" y="388" width="5" height="66" fill="#000"/>
<rect x="788" y="416" width="1" height="65" fill="#000"/>
<rect x="786" y="451" width="5" height="16" fill="#000"/>
<rect x="796" y="455" width="1" height="42" fill="#000"/>
<rect x="794" y="466" width="5" height="8" fill="#000"/>
<rect x="804" y="450" width="1" height="57" fill="#000"/>
<rect x="802" y="472" width="5" height="33" fill="#000"/>
<rect x="812" y="384" width="1" height="164" fill="#000"/>
<rect x="810" y="410" width="5" height="94" fill="#000"/>
<rect x="811" y="411" width="3" height="92" fill="#fff"/>
<rect x="820" y="398" width="1" height="11" fill="#000"/>
<rect x="818" y="400" width="5" height="8" fill="#000"/>
<rect x="819" y="401" width="3" height="6" fill="#fff"/>
<rect x="828" y="347" width="1" height="79" fill="#000"/>
<rect x="826" y="385" width="5" height="19" fill="#000"/>
<rect x="827" y="386" width="3" height="17" fill="#fff"/>
<rect x="836" y="372" width="1" height="51" fill="#000"/>
<rect x="834" y="386" width="5" height="37" fill="#000"/>
<rect x="844" y="399" width="1" height="50" fill="#000"/>
<rect x="842" y="421" width="5" height="7" fill="#000"/>
<rect x="852" y="415" width="1" height="35" fill="#000"/>
<rect x="850" y="425" width="5" height="1" fill="#000"/>
<rect x="860" y="385" width="1" height="51" fill="#000"/>
<rect x="858" y="395" width="5" height="31" fill="#000"/>
<rect x="859" y="396" width="3" height="29" fill="#fff"/>
<rect x="868" y="395" width="1" height="8" fill="#000"/>
<rect x="866" y="396" width="5" height="6" fill="#000"/>
<rect x="876" y="371" width="1" height="45" fill="#000"/>
<rect x="874" y="389" width="5" height="13" fill="#000"/>
<rect x="875" y="390" width="3" height="11" fill="#fff"/>
<rect x="884" y="329" width="1" height="67" fill="#000"/>
<rect x="882" y="345" width="5" height="45" fill="#000"/>
<rect x="883" y="346" width="3" height="43" fill="#fff"/>
<rect x="892" y="300" width="1" height="49" fill="#000"/>
<rect x="890" y="314" width="5" height="32" fill="#000"/>
<rect x="891" y="315" width="3" height="30" fill="#fff"/>
<rect x="900" y="297" width="1" height="44" fill="#000"/>
<rect x="898" y="303" width="5" height="14" fill="#000"/>
<rect x="899" y="304" width="3" height="12" fill="#fff"/>
<rect x="908" y="297" width="1" height="54" fill="#000"/>
<rect x="906" y="303" width="5" height="38" fill="#000"/>
<rect x="916" y="336" width="1" height="7" fill="#000"/>
<rect x="914" y="336" width="5" height="5" fill="#000"/>
<rect x="924" y="331" width="1" height="64" fill="#000"/>
<rect x="922" y="338" width="5" height="52" fill="#000"/>
<rect x="932" y="388" width="1" height="71" fill="#000"/>
<rect x="930" y="388" width="5" height="69" fill="#000"/>
<rect x="940" y="375" width="1" height="94" fill="#000"/>
<rect x="938" y="381" width="5" height="74" fill="#000"/>
<rect x="939" y="382" width="3" height="72" fill="#fff"/>
<rect x="948" y="369" width="1" height="51" fill="#000"/>
<rect x="946" y="382" width="5" height="37" fill="#000"/>
<rect x="956" y="382" width="1" height="56" fill="#000"/>
<rect x="954" y="404" width="5" height="15" fill="#000"/>
<rect x="955" y="405" width="3" height="13" fill="#fff"/>
<rect x="964" y="398" width="1" height="6" fill="#000"/>
<rect x="962" y="398" width="5" height="1" fill="#000"/>
<rect x="972" y="388" width="1" height="29" fill="#000"/>
<rect x="970" y="388" width="5" height="12" fill="#000"/>
<rect x="971" y="389" width="3" height="10" fill="#fff"/>
<rect x="980" y="338" width="1" height="63" fill="#000"/>
<rect x="978" y="354" width="5" height="35" fill="#000"/>
<rect x="979" y="355" width="3" height="33" fill="#fff"/>
<rect x="988" y="340" width="1" height="63" fill="#000"/>
<rect x="986" y="353" width="5" height="47" fill="#000"/>
<rect x="996" y="327" width="1" height="98" fill="#000"/>
<rect x="994" y="331" width="5" height="71" fill="#000"/>
<rect x="995" y="332" width="3" height="69" fill="#fff"/>
<rect x="1004" y="304" width="1" height="156" fill="#000"/>
<rect x="1002" y="330" width="5" height="112" fill="#000"/>
<rect x="1012" y="419" width="1" height="17" fill="#000"/>
<rect x="1010" y="419" width="5" height="12" fill="#000"/>
<rect x="1020" y="380" width="1" height="72" fill="#000"/>
<rect x="1018" y="389" width="5" height="42" fill="#000"/>
<rect x="1019" y="390" width="3" height="40" fill="#fff"/>
<rect x="1028" y="375" width="1" height="51" fill="#000"/>
<rect x="1026" y="389" width="5" height="10" fill="#000"/>
<rect x="1036" y="362" width="1" height="40" fill="#000"/>
<rect x="1034" y="370" width="5" height="29" fill="#000"/>
<rect x="1035" y="371" width="3" height="27" fill="#fff"/>
<rect x="1044" y="340" width="1" height="50" fill="#000"/>
<rect x="1042" y="371" width="5" height="11" fill="#000"/>
<rect x="1052" y="344" width="1" height="41" fill="#000"/>
<rect x="1050" y="370" width="5" height="12" fill="#000"/>
<rect x="1051" y="371" width="3" height="10" fill="#fff"/>
<rect x="1060" y="361" width="1" height="7" fill="#000"/>
<rect x="1058" y="361" width="5" height="4" fill="#000"/>
<rect x="1059" y="362" width="3" height="2" fill="#fff"/>
<rect x="1068" y="354" width="1" height="25" fill="#000"/>
<rect x="1066" y="362" width="5" height="1" fill="#000"/>
<rect x="1076" y="355" width="1" height="50" fill="#000"/>
<rect x="1074" y="362" width="5" height="29" fill="#000"/>
<rect x="1084" y="364" width="1" height="44" fill="#000"/>
<rect x="1082" y="368" width="5" height="25" fill="#000"/>
<rect x="1083" y="369" width="3" height="23" fill="#fff"/>
<rect x="1092" y="362" width="1" height="29" fill="#000"/>
<rect x="1090" y="368" width="5" height="8" fill="#000"/>
<rect x="1100" y="365" width="1" height="20" fill="#000"/>
<rect x="1098" y="375" width="5" height="6" fill="#000"/>
<rect x="1108" y="375" width="1" height="6" fill="#000"/>
<rect x="1106" y="376" width="5" height="4" fill="#000"/>
<rect x="1107" y="377" width="3" height="2" fill="#fff"/>
<rect x="1116" y="374" width="1" height="55" fill="#000"/>
<rect x="1114" y="375" width="5" height="39" fill="#000"/>
<rect x="1124" y="406" width="1" height="45" fill="#000"/>
<rect x="1122" y="412" width="5" height="30" fill="#000"/>
<rect x="1132" y="441" width="1" height="53" fill="#000"/>
<rect x="1130" y="441" width="5" height="30" fill="#000"/>
<rect x="1140" y="462" width="1" height="57" fill="#000"/>
<rect x="1138" y="471" width="5" height="32" fill="#000"/>
<rect x="1148" y="487" width="1" height="53" fill="#000"/>
<rect x="1146" y="501" width="5" height="15" fill="#000"/>
<rect x="1156" y="517" width="1" height="4" fill="#000"/>
<rect x="1154" y="517" width="5" height="4" fill="#000"/>
<rect x="1155" y="518" width="3" height="2" fill="#fff"/>
<rect x="1164" y="489" width="1" height="76" fill="#000"/>
<rect x="1162" y="504" width="5" height="13" fill="#000"/>
<rect x="1163" y="505" width="3" height="11" fill="#fff"/>
<rect x="1172" y="469" width="1" height="60" fill="#000"/>
<rect x="1170" y="471" width="5" height="32" fill="#000"/>
<rect x="1171" y="472" width="3" height="30" fill="#fff"/>
<rect x="1180" y="433" width="1" height="50" fill="#000"/>
<rect x="1178" y="450" width="5" height="21" fill="#000"/>
<rect x="1179" y="451" width="3" height="19" fill="#fff"/>
<rect x="1188" y="429" width="1" height="30" fill="#000"/>
<rect x="1186" y="437" width="5" height="12" fill="#000"/>
<rect x="1187" y="438" width="3" height="10" fill="#fff"/>
<rect x="1196" y="415" width="1" height="42" fill="#000"/>
<rect x="1194" y="424" width="5" height="14" fill="#000"/>
<rect x="1195" y="425" width="3" height="12" fill="#fff"/>
<rect x="1204" y="424" width="1" height="5" fill="#000"/>
<rect x="1202" y="425" width="5" height="3" fill="#000"/>
<rect x="1212" y="417" width="1" height="38" fill="#000"/>
<rect x="1210" y="425" width="5" height="14" fill="#000"/>
<rect x="1220" y="411" width="1" height="37" fill="#000"/>
<rect x="1218" y="416" width="5" height="22" fill="#000"/>
<rect x="1219" y="417" width="3" height="20" fill="#fff"/>
<rect x="1228" y="405" width="1" height="36" fill="#000"/>
<rect x="1226" y="417" width="5" height="21" fill="#000"/>
<rect x="1236" y="412" width="1" height="28" fill="#000"/>
<rect x="1234" y="428" width="5" height="10" fill="#000"/>
<rect x="1235" y="429" width="3" height="8" fill="#fff"/>
<rect x="1244" y="417" width="1" height="65" fill="#000"/>
<rect x="1242" y="428" width="5" height="15" fill="#000"/>
<rect x="1252" y="424" width="1" height="11" fill="#000"/>
<rect x="1250" y="431" width="5" height="1" fill="#000"/>
<rect x="1260" y="406" width="1" height="27" fill="#000"/>
<rect x="1258" y="414" width="5" height="18" fill="#000"/>
<rect x="1259" y="415" width="3" height="16" fill="#fff"/>
<rect x="1268" y="411" width="1" height="26" fill="#000"/>
<rect x="1266" y="414" width="5" height="7" fill="#000"/>
<rect x="1276" y="379" width="1" height="44" fill="#000"/>
<rect x="1274" y="391" width="5" height="31" fill="#000"/>
<rect x="1275" y="392" width="3" height="29" fill="#fff"/>
<rect x="1284" y="379" width="1" height="18" fill="#000"/>
<rect x="1282" y="386" width="5" height="5" fill="#000"/>
<rect x="1283" y="387" width="3" height="3" fill="#fff"/>
<rect x="1292" y="386" width="1" height="38" fill="#000"/>
<rect x="1290" y="386" width="5" height="37" fill="#000"/>
<rect x="1300" y="418" width="1" height="7" fill="#000"/>
<rect x="1298" y="421" width="5" height="1" fill="#000"/>
<rect x="1308" y="418" width="1" height="39" fill="#000"/>
<rect x="1306" y="421" width="5" height="27" fill="#000"/>
<rect x="1316" y="421" width="1" height="31" fill="#000"/>
<rect x="1314" y="435" width="5" height="12" fill="#000"/>
<rect x="1315" y="436" width="3" height="10" fill="#fff"/>
<rect x="1324" y="431" width="1" height="42" fill="#000"/>
<rect x="1322" y="434" width="5" height="30" fill="#000"/>
<rect x="1332" y="433" width="1" height="33" fill="#000"/>
<rect x="1330" y="445" width="5" height="19" fill="#000"/>
<rect x="1331" y="446" width="3" height="17" fill="#fff"/>
<rect x="1340" y="437" width="1" height="24" fill="#000"/>
<rect x="1338" y="441" width="5" height="4" fill="#000"/>
<rect x="1339" y="442" width="3" height="2" fill="#fff"/>
<rect x="1348" y="435" width="1" height="8" fill="#000"/>
<rect x="1346" y="438" width="5" height="4" fill="#000"/>
<rect x="1347" y="439" width="3" height="2" fill="#fff"/>
<rect x="1356" y="432" width="1" height="19" fill="#000"/>
<rect x="1354" y="436" width="5" height="4" fill="#000"/>
<rect x="1355" y="437" width="3" height="2" fill="#fff"/>
<rect x="1364" y="410" width="1" height="31" fill="#000"/>
<rect x="1362" y="434" width="5" height="4" fill="#000"/>
<rect x="1363" y="435" width="3" height="2" fill="#fff"/>
<rect x="1372" y="434" width="1" height="101" fill="#000"/>
<rect x="1370" y="434" width="5" height="71" fill="#000"/>
<rect x="1380" y="481" width="1" height="42" fill="#000"/>
<rect x="1378" y="484" width="5" height="21" fill="#000"/>
<rect x="1379" y="485" width="3" height="19" fill="#fff"/>
<rect x="1388" y="483" width="1" height="33" fill="#000"/>
<rect x="1386" y="484" width="5" height="17" fill="#000"/>
<rect x="1396" y="496" width="1" height="8" fill="#000"/>
<rect x="1394" y="502" width="5" height="1" fill="#000"/>
<rect x="1404" y="471" width="1" height="36" fill="#000"/>
<rect x="1402" y="490" width="5" height="13" fill="#000"/>
<rect x="1403" y="491" width="3" height="11" fill="#fff"/>
<rect x="1412" y="490" width="1" height="34" fill="#000"/>
<rect x="1410" y="490" width="5" height="32" fill="#000"/>
<rect x="1420" y="519" width="1" height="35" fill="#000"/>
<rect x="1418" y="521" width="5" height="16" fill="#000"/>
<rect x="1428" y="500" width="1" height="58" fill="#000"/>
<rect x="1426" y="514" width="5" height="23" fill="#000"/>
<rect x="1427" y="515" width="3" height="21" fill="#fff"/>
<rect x="1436" y="498" width="1" height="56" fill="#000"/>
<rect x="1434" y="503" width="5" height="13" fill="#000"/>
<rect x="1435" y="504" width="3" height="11" fill="#fff"/>
<rect x="1327" y="515" width="155" height="6" fill="#00ff00"/>
<path d="M1358 415 L1427 556" stroke="#ff0000" stroke-width="3.6" fill="none"/>
<path d="M1420 552 L1428.5 565 L1434 552 L1428 556 Z" fill="#ff0000" stroke="#ff0000" stroke-width="1.5"/>
<path d="M1429 560 L1440 527" stroke="#ff0000" stroke-width="3.2" fill="none"/>
<path d="M1434.5 530 L1442 520.5 L1444 532 L1440 528 Z" fill="#ff0000" stroke="#ff0000" stroke-width="1.5"/>
<rect x="994" y="304" width="9" height="1" fill="#ff0000"/>
<rect x="933.5" y="295.5" width="61" height="18" fill="#fff" stroke="#ff0000" stroke-width="1"/>
<text x="936.6" y="310.6" font-size="14.5" fill="#ff0000" textLength="56.4" lengthAdjust="spacingAndGlyphs" >106.959</text>
<rect x="1266" y="381" width="10" height="1" fill="#ff0000"/>
<rect x="1205.5" y="372.5" width="61" height="18" fill="#fff" stroke="#ff0000" stroke-width="1"/>
<text x="1208.8" y="387.8" font-size="15.5" fill="#ff0000" textLength="55.5" lengthAdjust="spacingAndGlyphs" >106.070</text>
<rect x="794" y="546" width="11" height="1" fill="#ff0000"/>
<rect x="720.5" y="534.5" width="74" height="24" fill="#fff" stroke="#ff0000" stroke-width="1"/>
<text x="723.5" y="555" font-size="22" fill="#ff0000" textLength="69.3" lengthAdjust="spacingAndGlyphs" >104.194</text>
<rect x="1037" y="518" width="11" height="1" fill="#ff0000"/>
<rect x="1047.5" y="506.5" width="73" height="24" fill="#fff" stroke="#ff0000" stroke-width="1"/>
<text x="1049.5" y="527.2" font-size="22" fill="#ff0000" textLength="69.3" lengthAdjust="spacingAndGlyphs" >104.513</text>
<rect x="1146" y="563" width="11" height="1" fill="#ff0000"/>
<rect x="1085.5" y="554.5" width="61" height="18" fill="#fff" stroke="#ff0000" stroke-width="1"/>
<text x="1088" y="570" font-size="15.5" fill="#ff0000" textLength="56.9" lengthAdjust="spacingAndGlyphs" >104.000</text>
<text x="1486" y="538" font-size="20" fill="#00ff00" font-weight="300" textLength="107" lengthAdjust="spacingAndGlyphs">多空转折点</text>
<path d="M0 35h6l-3 -4z" fill="#000"/>
<text x="11.4" y="35.9" font-size="10" fill="#000" stroke="#000" stroke-width="0.25" textLength="63.4" lengthAdjust="spacingAndGlyphs" >USDJPY-,Daily</text>
<text x="81.7" y="35.9" font-size="10" fill="#000" stroke="#000" stroke-width="0.25" textLength="139.9" lengthAdjust="spacingAndGlyphs" >104.552 104.735 104.118 104.679</text>
<path d="M1444 25h9l-4.5 5z" fill="#c0c0c0"/>
<rect x="4" y="659" width="1" height="4" fill="#c0c0c0"/>
<rect x="12" y="659" width="1" height="1" fill="#c0c0c0"/>
<rect x="20" y="652" width="1" height="7" fill="#c0c0c0"/>
<rect x="28" y="649" width="1" height="10" fill="#c0c0c0"/>
<rect x="36" y="646" width="1" height="13" fill="#c0c0c0"/>
<rect x="44" y="649" width="1" height="10" fill="#c0c0c0"/>
<rect x="52" y="652" width="1" height="7" fill="#c0c0c0"/>
<rect x="60" y="659" width="1" height="3" fill="#c0c0c0"/>
<rect x="68" y="659" width="1" height="16" fill="#c0c0c0"/>
<rect x="76" y="659" width="1" height="21" fill="#c0c0c0"/>
<rect x="84" y="659" width="1" height="21" fill="#c0c0c0"/>
<rect x="92" y="659" width="1" height="26" fill="#c0c0c0"/>
<rect x="100" y="659" width="1" height="27" fill="#c0c0c0"/>
<rect x="108" y="659" width="1" height="28" fill="#c0c0c0"/>
<rect x="116" y="659" width="1" height="28" fill="#c0c0c0"/>
<rect x="124" y="659" width="1" height="27" fill="#c0c0c0"/>
<rect x="132" y="659" width="1" height="27" fill="#c0c0c0"/>
<rect x="140" y="659" width="1" height="27" fill="#c0c0c0"/>
<rect x="148" y="659" width="1" height="30" fill="#c0c0c0"/>
<rect x="156" y="659" width="1" height="32" fill="#c0c0c0"/>
<rect x="164" y="659" width="1" height="41" fill="#c0c0c0"/>
<rect x="172" y="659" width="1" height="48" fill="#c0c0c0"/>
<rect x="180" y="659" width="1" height="46" fill="#c0c0c0"/>
<rect x="188" y="659" width="1" height="48" fill="#c0c0c0"/>
<rect x="196" y="659" width="1" height="51" fill="#c0c0c0"/>
<rect x="204" y="659" width="1" height="52" fill="#c0c0c0"/>
<rect x="212" y="659" width="1" height="56" fill="#c0c0c0"/>
<rect x="220" y="659" width="1" height="61" fill="#c0c0c0"/>
<rect x="228" y="659" width="1" height="63" fill="#c0c0c0"/>
<rect x="236" y="659" width="1" height="59" fill="#c0c0c0"/>
<rect x="244" y="659" width="1" height="54" fill="#c0c0c0"/>
<rect x="252" y="659" width="1" height="41" fill="#c0c0c0"/>
<rect x="260" y="659" width="1" height="35" fill="#c0c0c0"/>
<rect x="268" y="659" width="1" height="33" fill="#c0c0c0"/>
<rect x="276" y="659" width="1" height="26" fill="#c0c0c0"/>
<rect x="284" y="659" width="1" height="21" fill="#c0c0c0"/>
<rect x="292" y="659" width="1" height="18" fill="#c0c0c0"/>
<rect x="300" y="659" width="1" height="14" fill="#c0c0c0"/>
<rect x="308" y="659" width="1" height="5" fill="#c0c0c0"/>
<rect x="316" y="659" width="1" height="1" fill="#c0c0c0"/>
<rect x="324" y="657" width="1" height="2" fill="#c0c0c0"/>
<rect x="332" y="654" width="1" height="5" fill="#c0c0c0"/>
<rect x="340" y="650" width="1" height="9" fill="#c0c0c0"/>
<rect x="348" y="648" width="1" height="11" fill="#c0c0c0"/>
<rect x="356" y="649" width="1" height="10" fill="#c0c0c0"/>
<rect x="364" y="646" width="1" height="13" fill="#c0c0c0"/>
<rect x="372" y="646" width="1" height="13" fill="#c0c0c0"/>
<rect x="380" y="644" width="1" height="15" fill="#c0c0c0"/>
<rect x="388" y="644" width="1" height="15" fill="#c0c0c0"/>
<rect x="396" y="645" width="1" height="14" fill="#c0c0c0"/>
<rect x="404" y="633" width="1" height="26" fill="#c0c0c0"/>
<rect x="412" y="621" width="1" height="38" fill="#c0c0c0"/>
<rect x="420" y="611" width="1" height="48" fill="#c0c0c0"/>
<rect x="428" y="599" width="1" height="60" fill="#c0c0c0"/>
<rect x="436" y="589" width="1" height="70" fill="#c0c0c0"/>
<rect x="444" y="596" width="1" height="63" fill="#c0c0c0"/>
<rect x="452" y="609" width="1" height="50" fill="#c0c0c0"/>
<rect x="460" y="629" width="1" height="30" fill="#c0c0c0"/>
<rect x="468" y="647" width="1" height="12" fill="#c0c0c0"/>
<rect x="476" y="654" width="1" height="5" fill="#c0c0c0"/>
<rect x="484" y="658" width="1" height="1" fill="#c0c0c0"/>
<rect x="492" y="659" width="1" height="5" fill="#c0c0c0"/>
<rect x="500" y="659" width="1" height="9" fill="#c0c0c0"/>
<rect x="508" y="659" width="1" height="17" fill="#c0c0c0"/>
<rect x="516" y="659" width="1" height="23" fill="#c0c0c0"/>
<rect x="524" y="659" width="1" height="28" fill="#c0c0c0"/>
<rect x="532" y="659" width="1" height="32" fill="#c0c0c0"/>
<rect x="540" y="659" width="1" height="34" fill="#c0c0c0"/>
<rect x="548" y="659" width="1" height="41" fill="#c0c0c0"/>
<rect x="556" y="659" width="1" height="39" fill="#c0c0c0"/>
<rect x="564" y="659" width="1" height="35" fill="#c0c0c0"/>
<rect x="572" y="659" width="1" height="31" fill="#c0c0c0"/>
<rect x="580" y="659" width="1" height="28" fill="#c0c0c0"/>
<rect x="588" y="659" width="1" height="21" fill="#c0c0c0"/>
<rect x="596" y="659" width="1" height="11" fill="#c0c0c0"/>
<rect x="604" y="659" width="1" height="10" fill="#c0c0c0"/>
<rect x="612" y="659" width="1" height="7" fill="#c0c0c0"/>
<rect x="620" y="659" width="1" height="5" fill="#c0c0c0"/>
<rect x="628" y="659" width="1" height="3" fill="#c0c0c0"/>
<rect x="636" y="659" width="1" height="3" fill="#c0c0c0"/>
<rect x="644" y="659" width="1" height="2" fill="#c0c0c0"/>
<rect x="652" y="659" width="1" height="2" fill="#c0c0c0"/>
<rect x="660" y="659" width="1" height="4" fill="#c0c0c0"/>
<rect x="668" y="659" width="1" height="9" fill="#c0c0c0"/>
<rect x="676" y="659" width="1" height="12" fill="#c0c0c0"/>
<rect x="684" y="659" width="1" height="11" fill="#c0c0c0"/>
<rect x="692" y="659" width="1" height="10" fill="#c0c0c0"/>
<rect x="700" y="659" width="1" height="14" fill="#c0c0c0"/>
<rect x="708" y="659" width="1" height="12" fill="#c0c0c0"/>
<rect x="716" y="659" width="1" height="14" fill="#c0c0c0"/>
<rect x="724" y="659" width="1" height="13" fill="#c0c0c0"/>
<rect x="732" y="659" width="1" height="12" fill="#c0c0c0"/>
<rect x="740" y="659" width="1" height="15" fill="#c0c0c0"/>
<rect x="748" y="659" width="1" height="14" fill="#c0c0c0"/>
<rect x="756" y="659" width="1" height="14" fill="#c0c0c0"/>
<rect x="764" y="659" width="1" height="26" fill="#c0c0c0"/>
<rect x="772" y="659" width="1" height="35" fill="#c0c0c0"/>
<rect x="780" y="659" width="1" height="49" fill="#c0c0c0"/>
<rect x="788" y="659" width="1" height="61" fill="#c0c0c0"/>
<rect x="796" y="659" width="1" height="71" fill="#c0c0c0"/>
<rect x="804" y="659" width="1" height="81" fill="#c0c0c0"/>
<rect x="812" y="659" width="1" height="76" fill="#c0c0c0"/>
<rect x="820" y="659" width="1" height="72" fill="#c0c0c0"/>
<rect x="828" y="659" width="1" height="65" fill="#c0c0c0"/>
<rect x="836" y="659" width="1" height="62" fill="#c0c0c0"/>
<rect x="844" y="659" width="1" height="62" fill="#c0c0c0"/>
<rect x="852" y="659" width="1" height="59" fill="#c0c0c0"/>
<rect x="860" y="659" width="1" height="53" fill="#c0c0c0"/>
<rect x="868" y="659" width="1" height="49" fill="#c0c0c0"/>
<rect x="876" y="659" width="1" height="43" fill="#c0c0c0"/>
<rect x="884" y="659" width="1" height="33" fill="#c0c0c0"/>
<rect x="892" y="659" width="1" height="19" fill="#c0c0c0"/>
<rect x="900" y="659" width="1" height="9" fill="#c0c0c0"/>
<rect x="908" y="659" width="1" height="3" fill="#c0c0c0"/>
<rect x="916" y="659" width="1" height="1" fill="#c0c0c0"/>
<rect x="924" y="659" width="1" height="3" fill="#c0c0c0"/>
<rect x="932" y="659" width="1" height="14" fill="#c0c0c0"/>
<rect x="940" y="659" width="1" height="15" fill="#c0c0c0"/>
<rect x="948" y="659" width="1" height="18" fill="#c0c0c0"/>
<rect x="956" y="659" width="1" height="19" fill="#c0c0c0"/>
<rect x="964" y="659" width="1" height="19" fill="#c0c0c0"/>
<rect x="972" y="659" width="1" height="17" fill="#c0c0c0"/>
<rect x="980" y="659" width="1" height="12" fill="#c0c0c0"/>
<rect x="988" y="659" width="1" height="13" fill="#c0c0c0"/>
<rect x="996" y="659" width="1" height="5" fill="#c0c0c0"/>
<rect x="1004" y="659" width="1" height="12" fill="#c0c0c0"/>
<rect x="1012" y="659" width="1" height="14" fill="#c0c0c0"/>
<rect x="1020" y="659" width="1" height="14" fill="#c0c0c0"/>
<rect x="1028" y="659" width="1" height="14" fill="#c0c0c0"/>
<rect x="1036" y="659" width="1" height="10" fill="#c0c0c0"/>
<rect x="1044" y="659" width="1" height="7" fill="#c0c0c0"/>
<rect x="1052" y="659" width="1" height="5" fill="#c0c0c0"/>
<rect x="1060" y="659" width="1" height="2" fill="#c0c0c0"/>
<rect x="1068" y="659" width="1" height="1" fill="#c0c0c0"/>
<rect x="1076" y="659" width="1" height="1" fill="#c0c0c0"/>
<rect x="1084" y="659" width="1" height="2" fill="#c0c0c0"/>
<rect x="1092" y="659" width="1" height="1" fill="#c0c0c0"/>
<rect x="1100" y="659" width="1" height="1" fill="#c0c0c0"/>
<rect x="1108" y="658" width="1" height="1" fill="#c0c0c0"/>
<rect x="1116" y="659" width="1" height="3" fill="#c0c0c0"/>
<rect x="1124" y="659" width="1" height="10" fill="#c0c0c0"/>
<rect x="1132" y="659" width="1" height="19" fill="#c0c0c0"/>
<rect x="1140" y="659" width="1" height="31" fill="#c0c0c0"/>
<rect x="1148" y="659" width="1" height="40" fill="#c0c0c0"/>
<rect x="1156" y="659" width="1" height="47" fill="#c0c0c0"/>
<rect x="1164" y="659" width="1" height="52" fill="#c0c0c0"/>
<rect x="1172" y="659" width="1" height="50" fill="#c0c0c0"/>
<rect x="1180" y="659" width="1" height="45" fill="#c0c0c0"/>
<rect x="1188" y="659" width="1" height="38" fill="#c0c0c0"/>
<rect x="1196" y="659" width="1" height="33" fill="#c0c0c0"/>
<rect x="1204" y="659" width="1" height="26" fill="#c0c0c0"/>
<rect x="1212" y="659" width="1" height="24" fill="#c0c0c0"/>
<rect x="1220" y="659" width="1" height="19" fill="#c0c0c0"/>
<rect x="1228" y="659" width="1" height="17" fill="#c0c0c0"/>
<rect x="1236" y="659" width="1" height="14" fill="#c0c0c0"/>
<rect x="1244" y="659" width="1" height="14" fill="#c0c0c0"/>
<rect x="1252" y="659" width="1" height="11" fill="#c0c0c0"/>
<rect x="1260" y="659" width="1" height="8" fill="#c0c0c0"/>
<rect x="1268" y="659" width="1" height="6" fill="#c0c0c0"/>
<rect x="1276" y="659" width="1" height="1" fill="#c0c0c0"/>
<rect x="1284" y="656" width="1" height="3" fill="#c0c0c0"/>
<rect x="1292" y="656" width="1" height="3" fill="#c0c0c0"/>
<rect x="1300" y="657" width="1" height="2" fill="#c0c0c0"/>
<rect x="1324" y="659" width="1" height="6" fill="#c0c0c0"/>
<rect x="1332" y="659" width="1" height="7" fill="#c0c0c0"/>
<rect x="1340" y="659" width="1" height="8" fill="#c0c0c0"/>
<rect x="1348" y="659" width="1" height="8" fill="#c0c0c0"/>
<rect x="1356" y="659" width="1" height="6" fill="#c0c0c0"/>
<rect x="1364" y="659" width="1" height="5" fill="#c0c0c0"/>
<rect x="1372" y="659" width="1" height="15" fill="#c0c0c0"/>
<rect x="1380" y="659" width="1" height="19" fill="#c0c0c0"/>
<rect x="1388" y="659" width="1" height="23" fill="#c0c0c0"/>
<rect x="1396" y="659" width="1" height="27" fill="#c0c0c0"/>
<rect x="1404" y="659" width="1" height="28" fill="#c0c0c0"/>
<rect x="1412" y="659" width="1" height="31" fill="#c0c0c0"/>
<rect x="1420" y="659" width="1" height="37" fill="#c0c0c0"/>
<rect x="1428" y="659" width="1" height="38" fill="#c0c0c0"/>
<rect x="1436" y="659" width="1" height="37" fill="#c0c0c0"/>
<polyline points="0,619 1.3,619.5 11.4,633.5 20.3,643.6 28,650 38,653.3 50.8,655 63.5,655.8 76.2,658.9 88.9,662.7 101.6,670.3 114.3,677.1 127,683 139.6,685.5 152.3,687.3 165,690.6 177.7,693.9 190.4,697 203,700.8 215.8,705.8 228.5,711.7 241.2,713.7 253.9,712.7 266.6,709.6 279.3,704.6 292,697 304.7,688 317.4,679.2 330,671 342.8,664 355.5,658.9 368.2,653.8 380.8,650.7 393.5,647.4 406.2,643.6 419,638 431.6,629.7 436.3,626.2 442.7,620.6 452.9,615.5 463,614.3 473.2,615 483.3,620.1 496,630.8 506.2,642.2 518.9,656.2 531.6,669.4 544.3,679 557,684.6 569.6,689.7 587.4,691.2 602.6,687.9 617.9,681.6 633.1,674.5 645.8,668.9 658.5,664.3 678.8,664.5 696.6,665.8 716.9,668.9 734.7,670.9 747.4,672.7 762.6,673.4 780.4,680.3 795.6,691.7 810.8,705.7 823.5,717.1 836.2,724.7 851.5,727.3 860,725.2 872.7,720.9 885.4,713.3 898,704.4 910.8,694.3 923.5,681.6 936.2,676 948.9,671.9 961.6,671.4 979.3,672.7 987,674.5 1012.3,674.5 1032.7,673.4 1058,670.1 1083.4,665.8 1098.7,662.5 1108.8,660 1121.5,660 1134.2,662.5 1146.9,668.9 1159.6,677.8 1172.3,688 1185,694.3 1195,698.8 1205.3,699.8 1218,697.3 1230.7,691.7 1246,684.1 1261.2,677.8 1276.4,673.4 1286.5,668.9 1295.7,665.2 1306,662.6 1316.6,660 1332.3,660.2 1348,660.7 1363.6,662.6 1374,665.2 1384.6,669.1 1395,672.2 1405.5,675.6 1416,678.3 1426.4,684.3 1435.8,688" fill="none" stroke="#ff0000" stroke-width="1" stroke-dasharray="3,3"/>
<text x="1.3" y="592.3" font-size="10" fill="#000" stroke="#000" stroke-width="0.25" textLength="132" lengthAdjust="spacingAndGlyphs" >MACD(12,26,9) -0.2648 -0.2040</text>
<rect x="1687" y="581" width="1" height="1" fill="#000"/>
<text x="1689.8" y="589.9" font-size="10" fill="#000" stroke="#000" stroke-width="0.25" textLength="27.3" lengthAdjust="spacingAndGlyphs" >0.5592</text>
<rect x="1687" y="659" width="1" height="1" fill="#000"/>
<text x="1689.9" y="662.9" font-size="10" fill="#000" stroke="#000" stroke-width="0.25" textLength="18" lengthAdjust="spacingAndGlyphs" >0.00</text>
<rect x="1687" y="748" width="1" height="1" fill="#000"/>
<text x="1689.8" y="746" font-size="10" fill="#000" stroke="#000" stroke-width="0.25" textLength="31.1" lengthAdjust="spacingAndGlyphs" >-0.6387</text>
<line x1="0" y1="787.5" x2="1686" y2="787.5" stroke="#c0c0c0" stroke-dasharray="3,3"/>
<line x1="0" y1="838.5" x2="1686" y2="838.5" stroke="#c0c0c0" stroke-dasharray="3,3"/>
<line x1="0" y1="899.5" x2="1686" y2="899.5" stroke="#c0c0c0" stroke-dasharray="3,3"/>
<polyline points="0,840.2 10.2,835.1 20.3,832.6 29.2,836.4 35.5,834.4 44.4,838.9 52,841 61,847 68.5,851.1 74.9,846 83.8,842.7 92.7,845.3 100.3,844 116.8,844 124.4,842 132,844.5 141,848.6 147.3,846.6 154.9,849.1 163.8,856.7 172.6,859.8 180.3,846.6 189.2,852.1 196.8,854.2 205.7,854.2 213.3,858 220.9,861.3 228.5,858 237.4,849.1 245,845.3 252.6,832.6 260.2,840.2 269.1,844 276.7,835.9 284.4,836.9 292,839.4 300.9,834.4 308.5,827.5 316.1,832.6 323.7,831.3 332.6,833.4 340.2,829.3 347.8,830.8 356.7,835.9 364.3,829.3 372,833.4 380.8,829.3 388.5,832.6 396,836.9 403.7,811.5 411.3,808.5 420.2,805.9 429,800.3 436.3,800.3 444,831.3 450.3,839 460.5,854.7 468,858 475.7,846.6 484.6,847.8 492.2,844.5 499.8,846 508.7,854.2 516.3,851.6 524,852.9 531.6,854.2 540.4,852.1 548,861.3 555.7,846.6 563.3,843.5 572.2,843.5 579.8,842 596.3,825.7 604,839.5 611.5,837.7 620.4,837.7 628,835.1 637,840.2 644.5,835.1 652.2,842 659.8,843.5 668.7,850.4 676.3,851.1 684,840.2 691.5,841.5 700.4,849.6 708,839.5 715.6,847.1 724.5,842.7 732.1,841 739.8,849.6 748.6,840.2 757.5,848.6 763.9,863.1 772.8,863.1 780.4,874 788,876.5 795.6,876.5 804.5,880.8 812.1,852.1 819.7,850.4 828.6,846.6 836.2,852.9 843.8,854.7 851.5,854.7 860.4,845.3 868.9,846.6 876.5,842.7 884.1,831.3 891.7,825.7 900.6,822.4 908.2,833.4 915.9,833.4 923.5,845.3 932.4,859.3 940,841.5 948.9,848.6 956.5,845.3 964.1,844.5 971.7,841 980.6,833.4 988.2,844 996.6,830.1 1004.7,849.1 1012.3,847.1 1020,840.2 1028.8,841.5 1036.5,836.4 1045.3,838.4 1053,836.4 1060.6,834.4 1068.2,834.4 1077,841.5 1084.7,836.4 1092.3,837.7 1100,839.4 1108.8,838.4 1116.4,846.6 1125.3,854.7 1133,860.5 1140.6,866.4 1148.2,868.1 1155.8,869.4 1164.7,863.1 1172.3,852.9 1180,846 1187.5,842.7 1196.4,837.7 1204,838.4 1211.6,842 1220.5,835.1 1228.2,842 1235.8,839 1244.6,842.7 1252.3,839.4 1260,833.4 1267.5,836.4 1276.4,826.8 1284,824.2 1291.8,837.8 1299.6,838 1308.8,847 1315.3,843 1324.4,852.1 1333.6,844.3 1342.7,843 1351.9,842.2 1363.6,840.4 1372,864.7 1380.6,855.3 1388.5,859.4 1395,860.5 1404.2,854.2 1412,862.6 1419.8,867.3 1429,856.8 1435.8,852.7" fill="none" stroke="#1e90ff" stroke-width="1" />
<text x="0.8" y="764.3" font-size="10" fill="#000" stroke="#000" stroke-width="0.25" textLength="66.5" lengthAdjust="spacingAndGlyphs" >RSI(14) 41.9901</text>
<rect x="1687" y="753" width="1" height="1" fill="#000"/>
<text x="1690.4" y="761.9" font-size="10" fill="#000" stroke="#000" stroke-width="0.25" textLength="14.4" lengthAdjust="spacingAndGlyphs" >100</text>
<rect x="1687" y="787" width="1" height="1" fill="#000"/>
<text x="1690.4" y="790.8" font-size="10" fill="#000" stroke="#000" stroke-width="0.25" textLength="9.6" lengthAdjust="spacingAndGlyphs" >80</text>
<rect x="1687" y="838" width="1" height="1" fill="#000"/>
<text x="1690.4" y="841.8" font-size="10" fill="#000" stroke="#000" stroke-width="0.25" textLength="9.6" lengthAdjust="spacingAndGlyphs" >50</text>
<rect x="1687" y="899" width="1" height="1" fill="#000"/>
<text x="1690.4" y="902.7" font-size="10" fill="#000" stroke="#000" stroke-width="0.25" textLength="9.6" lengthAdjust="spacingAndGlyphs" >15</text>
<rect x="1687" y="923" width="1" height="1" fill="#000"/>
<text x="1690.4" y="922" font-size="10" fill="#000" stroke="#000" stroke-width="0.25" textLength="4.8" lengthAdjust="spacingAndGlyphs" >0</text>
<rect x="0" y="24" width="1687" height="1" fill="#000"/>
<rect x="0" y="577" width="1687" height="1" fill="#000"/>
<rect x="0" y="579" width="1687" height="1" fill="#000"/>
<rect x="0" y="749" width="1687" height="1" fill="#000"/>
<rect x="0" y="751" width="1687" height="1" fill="#000"/>
<rect x="0" y="925" width="1687" height="1" fill="#000"/>
<rect x="1686" y="24" width="1" height="554" fill="#000"/>
<rect x="1686" y="579" width="1" height="171" fill="#000"/>
<rect x="1686" y="751" width="1" height="175" fill="#000"/>
<rect x="1732" y="22" width="1" height="920" fill="#d4d4d4"/>
<rect x="1687" y="46" width="2" height="1" fill="#000"/>
<text x="1692.3" y="50.3" font-size="9.9" fill="#000" stroke="#000" stroke-width="0.3" textLength="31.9" lengthAdjust="spacingAndGlyphs" >109.900</text>
<rect x="1687" y="79" width="2" height="1" fill="#000"/>
<text x="1692.3" y="83.1" font-size="9.9" fill="#000" stroke="#000" stroke-width="0.3" textLength="31.9" lengthAdjust="spacingAndGlyphs" >109.530</text>
<rect x="1687" y="111" width="2" height="1" fill="#000"/>
<text x="1692.3" y="116" font-size="9.9" fill="#000" stroke="#000" stroke-width="0.3" textLength="31.9" lengthAdjust="spacingAndGlyphs" >109.150</text>
<rect x="1687" y="145" width="2" height="1" fill="#000"/>
<text x="1692.3" y="149.4" font-size="9.9" fill="#000" stroke="#000" stroke-width="0.3" textLength="31.9" lengthAdjust="spacingAndGlyphs" >108.770</text>
<rect x="1687" y="178" width="2" height="1" fill="#000"/>
<text x="1692.3" y="182.2" font-size="9.9" fill="#000" stroke="#000" stroke-width="0.3" textLength="31.9" lengthAdjust="spacingAndGlyphs" >108.400</text>
<rect x="1687" y="211" width="2" height="1" fill="#000"/>
<text x="1692.3" y="215.1" font-size="9.9" fill="#000" stroke="#000" stroke-width="0.3" textLength="31.9" lengthAdjust="spacingAndGlyphs" >108.020</text>
<rect x="1687" y="243" width="2" height="1" fill="#000"/>
<text x="1692.3" y="248" font-size="9.9" fill="#000" stroke="#000" stroke-width="0.3" textLength="31.9" lengthAdjust="spacingAndGlyphs" >107.640</text>
<rect x="1687" y="276" width="2" height="1" fill="#000"/>
<text x="1692.3" y="280.8" font-size="9.9" fill="#000" stroke="#000" stroke-width="0.3" textLength="31.9" lengthAdjust="spacingAndGlyphs" >107.260</text>
<rect x="1687" y="309" width="2" height="1" fill="#000"/>
<text x="1692.3" y="313.9" font-size="9.9" fill="#000" stroke="#000" stroke-width="0.3" textLength="31.9" lengthAdjust="spacingAndGlyphs" >106.890</text>
<rect x="1687" y="342" width="2" height="1" fill="#000"/>
<text x="1692.3" y="346.7" font-size="9.9" fill="#000" stroke="#000" stroke-width="0.3" textLength="31.9" lengthAdjust="spacingAndGlyphs" >106.510</text>
<rect x="1687" y="375" width="2" height="1" fill="#000"/>
<text x="1692.3" y="379.9" font-size="9.9" fill="#000" stroke="#000" stroke-width="0.3" textLength="31.9" lengthAdjust="spacingAndGlyphs" >106.130</text>
<rect x="1687" y="409" width="2" height="1" fill="#000"/>
<text x="1692.3" y="413" font-size="9.9" fill="#000" stroke="#000" stroke-width="0.3" textLength="31.9" lengthAdjust="spacingAndGlyphs" >105.750</text>
<rect x="1687" y="441" width="2" height="1" fill="#000"/>
<text x="1692.3" y="445.9" font-size="9.9" fill="#000" stroke="#000" stroke-width="0.3" textLength="31.9" lengthAdjust="spacingAndGlyphs" >105.380</text>
<rect x="1687" y="475" width="2" height="1" fill="#000"/>
<text x="1692.3" y="479.2" font-size="9.9" fill="#000" stroke="#000" stroke-width="0.3" textLength="31.9" lengthAdjust="spacingAndGlyphs" >105.000</text>
<rect x="1687" y="508" width="2" height="1" fill="#000"/>
<text x="1692.3" y="512.5" font-size="9.9" fill="#000" stroke="#000" stroke-width="0.3" textLength="31.9" lengthAdjust="spacingAndGlyphs" >104.620</text>
<rect x="1687" y="573" width="2" height="1" fill="#000"/>
<text x="1692.3" y="578" font-size="9.9" fill="#000" stroke="#000" stroke-width="0.3" textLength="31.9" lengthAdjust="spacingAndGlyphs" >103.870</text>
<rect x="1688" y="455" width="41" height="11" fill="#ff0000"/>
<text x="1692.5" y="464.1" font-size="9.9" fill="#fff" textLength="31.9" lengthAdjust="spacingAndGlyphs" >105.164</text>
<rect x="1688" y="478" width="41" height="11" fill="#ff0000"/>
<text x="1692.5" y="487.1" font-size="9.9" fill="#fff" textLength="31.9" lengthAdjust="spacingAndGlyphs" >104.901</text>
<rect x="1688" y="498" width="41" height="11" fill="#000000"/>
<text x="1692.5" y="507.1" font-size="9.9" fill="#fff" textLength="31.9" lengthAdjust="spacingAndGlyphs" >104.679</text>
<rect x="1688" y="512" width="41" height="11" fill="#32cd32"/>
<text x="1692.5" y="521.1" font-size="9.9" fill="#fff" textLength="31.9" lengthAdjust="spacingAndGlyphs" >104.513</text>
<rect x="1688" y="537" width="41" height="11" fill="#0000ff"/>
<text x="1692.5" y="546.1" font-size="9.9" fill="#fff" textLength="31.9" lengthAdjust="spacingAndGlyphs" >104.228</text>
<rect x="1688" y="557" width="41" height="11" fill="#0000ff"/>
<text x="1692.5" y="566.1" font-size="9.9" fill="#fff" textLength="31.9" lengthAdjust="spacingAndGlyphs" >104.000</text>
<text x="3.8" y="937.9" font-size="10" fill="#000" stroke="#000" stroke-width="0.25" textLength="37.1" lengthAdjust="spacingAndGlyphs" >Apr 2020</text>
<rect x="60" y="926" width="1" height="3" fill="#000"/>
<text x="59.8" y="937.9" font-size="10" fill="#000" stroke="#000" stroke-width="0.25" textLength="50" lengthAdjust="spacingAndGlyphs" >13 Apr 2020</text>
<rect x="124" y="926" width="1" height="3" fill="#000"/>
<text x="123.8" y="937.9" font-size="10" fill="#000" stroke="#000" stroke-width="0.25" textLength="50" lengthAdjust="spacingAndGlyphs" >22 Apr 2020</text>
<rect x="188" y="926" width="1" height="3" fill="#000"/>
<text x="187.8" y="937.9" font-size="10" fill="#000" stroke="#000" stroke-width="0.25" textLength="47.9" lengthAdjust="spacingAndGlyphs" >1 May 2020</text>
<rect x="252" y="926" width="1" height="3" fill="#000"/>
<text x="251.8" y="937.9" font-size="10" fill="#000" stroke="#000" stroke-width="0.25" textLength="53" lengthAdjust="spacingAndGlyphs" >11 May 2020</text>
<rect x="316" y="926" width="1" height="3" fill="#000"/>
<text x="315.8" y="937.9" font-size="10" fill="#000" stroke="#000" stroke-width="0.25" textLength="53" lengthAdjust="spacingAndGlyphs" >20 May 2020</text>
<rect x="380" y="926" width="1" height="3" fill="#000"/>
<text x="379.8" y="937.9" font-size="10" fill="#000" stroke="#000" stroke-width="0.25" textLength="53" lengthAdjust="spacingAndGlyphs" >29 May 2020</text>
<rect x="444" y="926" width="1" height="3" fill="#000"/>
<text x="443.8" y="937.9" font-size="10" fill="#000" stroke="#000" stroke-width="0.25" textLength="45.3" lengthAdjust="spacingAndGlyphs" >8 Jun 2020</text>
<rect x="508" y="926" width="1" height="3" fill="#000"/>
<text x="507.8" y="937.9" font-size="10" fill="#000" stroke="#000" stroke-width="0.25" textLength="50.5" lengthAdjust="spacingAndGlyphs" >17 Jun 2020</text>
<rect x="572" y="926" width="1" height="3" fill="#000"/>
<text x="571.8" y="937.9" font-size="10" fill="#000" stroke="#000" stroke-width="0.25" textLength="50.5" lengthAdjust="spacingAndGlyphs" >26 Jun 2020</text>
<rect x="636" y="926" width="1" height="3" fill="#000"/>
<text x="635.8" y="937.9" font-size="10" fill="#000" stroke="#000" stroke-width="0.25" textLength="42.2" lengthAdjust="spacingAndGlyphs" >6 Jul 2020</text>
<rect x="700" y="926" width="1" height="3" fill="#000"/>
<text x="699.8" y="937.9" font-size="10" fill="#000" stroke="#000" stroke-width="0.25" textLength="47.4" lengthAdjust="spacingAndGlyphs" >15 Jul 2020</text>
<rect x="764" y="926" width="1" height="3" fill="#000"/>
<text x="763.8" y="937.9" font-size="10" fill="#000" stroke="#000" stroke-width="0.25" textLength="47.4" lengthAdjust="spacingAndGlyphs" >24 Jul 2020</text>
<rect x="828" y="926" width="1" height="3" fill="#000"/>
<text x="827.8" y="937.9" font-size="10" fill="#000" stroke="#000" stroke-width="0.25" textLength="46.9" lengthAdjust="spacingAndGlyphs" >3 Aug 2020</text>
<rect x="892" y="926" width="1" height="3" fill="#000"/>
<text x="891.8" y="937.9" font-size="10" fill="#000" stroke="#000" stroke-width="0.25" textLength="52" lengthAdjust="spacingAndGlyphs" >12 Aug 2020</text>
<rect x="956" y="926" width="1" height="3" fill="#000"/>
<text x="955.8" y="937.9" font-size="10" fill="#000" stroke="#000" stroke-width="0.25" textLength="52" lengthAdjust="spacingAndGlyphs" >21 Aug 2020</text>
<rect x="1020" y="926" width="1" height="3" fill="#000"/>
<text x="1019.8" y="937.9" font-size="10" fill="#000" stroke="#000" stroke-width="0.25" textLength="52" lengthAdjust="spacingAndGlyphs" >31 Aug 2020</text>
<rect x="1084" y="926" width="1" height="3" fill="#000"/>
<text x="1083.8" y="937.9" font-size="10" fill="#000" stroke="#000" stroke-width="0.25" textLength="46.9" lengthAdjust="spacingAndGlyphs" >9 Sep 2020</text>
<rect x="1148" y="926" width="1" height="3" fill="#000"/>
<text x="1147.8" y="937.9" font-size="10" fill="#000" stroke="#000" stroke-width="0.25" textLength="52" lengthAdjust="spacingAndGlyphs" >18 Sep 2020</text>
<rect x="1212" y="926" width="1" height="3" fill="#000"/>
<text x="1211.8" y="937.9" font-size="10" fill="#000" stroke="#000" stroke-width="0.25" textLength="52" lengthAdjust="spacingAndGlyphs" >28 Sep 2020</text>
<rect x="1276" y="926" width="1" height="3" fill="#000"/>
<text x="1275.8" y="937.9" font-size="10" fill="#000" stroke="#000" stroke-width="0.25" textLength="44.8" lengthAdjust="spacingAndGlyphs" >7 Oct 2020</text>
<rect x="1340" y="926" width="1" height="3" fill="#000"/>
<text x="1339.8" y="937.9" font-size="10" fill="#000" stroke="#000" stroke-width="0.25" textLength="50" lengthAdjust="spacingAndGlyphs" >16 Oct 2020</text>
<rect x="1404" y="926" width="1" height="3" fill="#000"/>
<text x="1403.8" y="937.9" font-size="10" fill="#000" stroke="#000" stroke-width="0.25" textLength="50" lengthAdjust="spacingAndGlyphs" >26 Oct 2020</text>
<defs>
<linearGradient id="gtop" x1="0" y1="0" x2="0" y2="1"><stop offset="0" stop-color="#5858fa"/><stop offset="1" stop-color="#3434e2"/></linearGradient>
<linearGradient id="gbig" x1="0" y1="0" x2="0" y2="1"><stop offset="0" stop-color="#3030de"/><stop offset="1" stop-color="#0404a4"/></linearGradient>
<linearGradient id="gbtn" x1="0" y1="0" x2="0" y2="1"><stop offset="0" stop-color="#f2f2f2"/><stop offset="0.4" stop-color="#ececec"/><stop offset="0.45" stop-color="#dcdcdc"/><stop offset="1" stop-color="#d2d2d2"/></linearGradient>
</defs>
<rect x="0" y="44" width="51" height="24" fill="url(#gtop)"/>
<rect x="0" y="44" width="51" height="1" fill="#0c0c9c"/>
<rect x="50" y="44" width="1" height="24" fill="#0c0c9c"/>
<rect x="166" y="44" width="52" height="24" fill="url(#gtop)"/>
<rect x="166" y="44" width="52" height="1" fill="#0c0c9c"/>
<rect x="166" y="44" width="1" height="24" fill="#0c0c9c"/>
<rect x="51" y="44" width="115" height="24" fill="#ffffff"/>
<rect x="53.5" y="44.5" width="110" height="21" fill="#ffffff" stroke="#a8a8a8"/>
<rect x="55" y="46" width="18" height="18" fill="url(#gbtn)"/>
<rect x="144" y="46" width="18" height="18" fill="url(#gbtn)"/>
<rect x="74" y="45" width="1" height="20" fill="#a8a8a8"/>
<rect x="142" y="45" width="1" height="20" fill="#a8a8a8"/>
<path d="M61 53h5.5l-2.75 3z" fill="#5068b8"/>
<path d="M150 56h5.5l-2.75 -3z" fill="#5068b8"/>
<text x="138.5" y="59" font-size="12.5" fill="#000" text-anchor="end" >1.00</text>
<rect x="0" y="68" width="108" height="40" fill="url(#gbig)"/>
<rect x="110" y="68" width="108" height="40" fill="url(#gbig)"/>
<rect x="50" y="68" width="58" height="1" fill="#0c0c9c"/>
<rect x="110" y="68" width="57" height="1" fill="#0c0c9c"/>
<rect x="3" y="67" width="44" height="1" fill="#14149a"/>
<rect x="3" y="68" width="44" height="1" fill="#8a8af4"/>
<rect x="170" y="67" width="44" height="1" fill="#14149a"/>
<rect x="170" y="68" width="44" height="1" fill="#8a8af4"/>
<text x="11.7" y="59.8" font-size="12.5" fill="#ffffff" textLength="24.8" lengthAdjust="spacingAndGlyphs" >SELL</text>
<text x="179.4" y="59.8" font-size="12.5" fill="#ffffff" textLength="23.4" lengthAdjust="spacingAndGlyphs" >BUY</text>
<text x="22.5" y="99" font-size="12" fill="#ffffff" textLength="20.5" lengthAdjust="spacingAndGlyphs" font-weight="bold" >104</text>
<text x="47" y="99" font-size="34.5" fill="#ffffff" textLength="32.5" lengthAdjust="spacingAndGlyphs" >67</text>
<text x="86" y="83" font-size="11.5" fill="#ffffff" font-weight="bold" >9</text>
<text x="132.5" y="99" font-size="12" fill="#ffffff" textLength="20.5" lengthAdjust="spacingAndGlyphs" font-weight="bold" >104</text>
<text x="157.5" y="99" font-size="34.5" fill="#ffffff" textLength="33" lengthAdjust="spacingAndGlyphs" >69</text>
<text x="197.5" y="83" font-size="11.5" fill="#ffffff" font-weight="bold" >6</text>
</svg>
</body></html>
